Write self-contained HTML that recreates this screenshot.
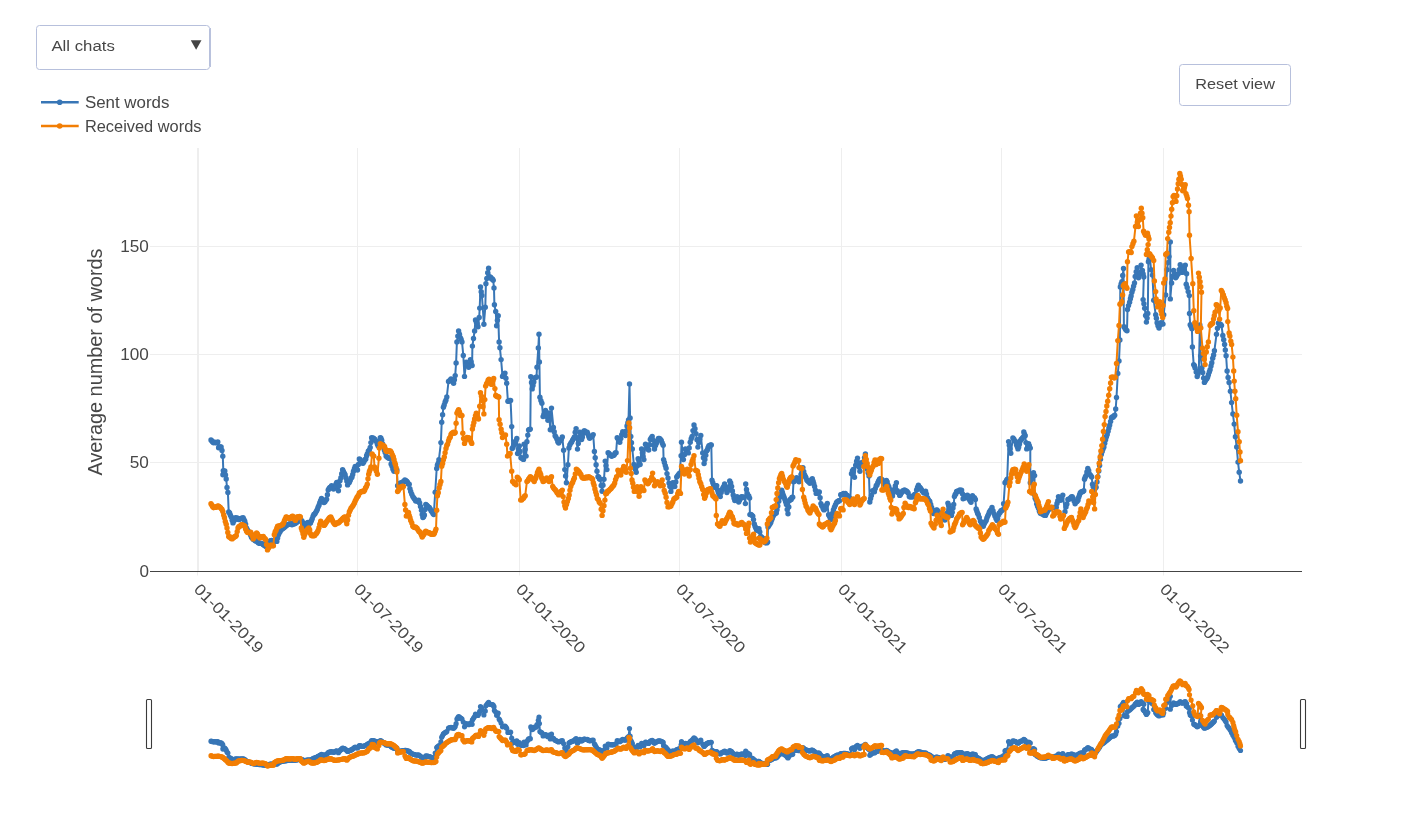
<!DOCTYPE html>
<html><head><meta charset="utf-8"><title>Average number of words</title>
<style>
html,body{margin:0;padding:0;background:#fff;}
svg text{filter:grayscale(1);}
body{width:1418px;height:830px;overflow:hidden;position:relative;font-family:"Liberation Sans",sans-serif;}
</style></head><body>
<svg width="1418" height="830" viewBox="0 0 1418 830" style="position:absolute;left:0;top:0;font-family:'Liberation Sans',sans-serif">
<defs>
<marker id="mb" markerUnits="userSpaceOnUse" markerWidth="8" markerHeight="8" refX="4" refY="4"><circle cx="4" cy="4" r="2.7" fill="#3876b6"/></marker>
<marker id="mo" markerUnits="userSpaceOnUse" markerWidth="8" markerHeight="8" refX="4" refY="4"><circle cx="4" cy="4" r="2.7" fill="#f27e04"/></marker>
<marker id="nb" markerUnits="userSpaceOnUse" markerWidth="8" markerHeight="8" refX="4" refY="4"><circle cx="4" cy="4" r="2.6" fill="#3876b6"/></marker>
<marker id="no" markerUnits="userSpaceOnUse" markerWidth="8" markerHeight="8" refX="4" refY="4"><circle cx="4" cy="4" r="2.6" fill="#f27e04"/></marker>
</defs>
<rect width="1418" height="830" fill="#fff"/>
<line x1="197.5" y1="148" x2="197.5" y2="575.5" stroke="#eeeeee" stroke-width="1"/>
<line x1="357.5" y1="148" x2="357.5" y2="575.5" stroke="#eeeeee" stroke-width="1"/>
<line x1="519.5" y1="148" x2="519.5" y2="575.5" stroke="#eeeeee" stroke-width="1"/>
<line x1="679.5" y1="148" x2="679.5" y2="575.5" stroke="#eeeeee" stroke-width="1"/>
<line x1="841.5" y1="148" x2="841.5" y2="575.5" stroke="#eeeeee" stroke-width="1"/>
<line x1="1001.5" y1="148" x2="1001.5" y2="575.5" stroke="#eeeeee" stroke-width="1"/>
<line x1="1163.5" y1="148" x2="1163.5" y2="575.5" stroke="#eeeeee" stroke-width="1"/>
<line x1="198.5" y1="148" x2="198.5" y2="571" stroke="#eeeeee" stroke-width="1"/>
<line x1="150" y1="246.5" x2="1302" y2="246.5" stroke="#eeeeee" stroke-width="1"/>
<line x1="150" y1="354.5" x2="1302" y2="354.5" stroke="#eeeeee" stroke-width="1"/>
<line x1="150" y1="462.5" x2="1302" y2="462.5" stroke="#eeeeee" stroke-width="1"/>
<line x1="150" y1="571.5" x2="1302" y2="571.5" stroke="#444" stroke-width="1"/>
<text x="148.9" y="251.6" text-anchor="end" font-size="15.8" fill="#474747" textLength="28.6" lengthAdjust="spacingAndGlyphs">150</text>
<text x="148.9" y="359.6" text-anchor="end" font-size="15.8" fill="#474747" textLength="28.6" lengthAdjust="spacingAndGlyphs">100</text>
<text x="148.9" y="467.6" text-anchor="end" font-size="15.8" fill="#474747" textLength="19.1" lengthAdjust="spacingAndGlyphs">50</text>
<text x="148.9" y="576.6" text-anchor="end" font-size="15.8" fill="#474747" textLength="9.5" lengthAdjust="spacingAndGlyphs">0</text>
<text transform="translate(102.3,362) rotate(-90)" text-anchor="middle" font-size="19.5" fill="#474747" textLength="227" lengthAdjust="spacingAndGlyphs">Average number of words</text>
<text transform="translate(192.9,590.2) rotate(45)" font-size="15.8" fill="#474747" textLength="90.5" lengthAdjust="spacingAndGlyphs">01-01-2019</text>
<text transform="translate(352.9,590.2) rotate(45)" font-size="15.8" fill="#474747" textLength="90.5" lengthAdjust="spacingAndGlyphs">01-07-2019</text>
<text transform="translate(514.9,590.2) rotate(45)" font-size="15.8" fill="#474747" textLength="90.5" lengthAdjust="spacingAndGlyphs">01-01-2020</text>
<text transform="translate(674.9,590.2) rotate(45)" font-size="15.8" fill="#474747" textLength="90.5" lengthAdjust="spacingAndGlyphs">01-07-2020</text>
<text transform="translate(836.9,590.2) rotate(45)" font-size="15.8" fill="#474747" textLength="90.5" lengthAdjust="spacingAndGlyphs">01-01-2021</text>
<text transform="translate(996.9,590.2) rotate(45)" font-size="15.8" fill="#474747" textLength="90.5" lengthAdjust="spacingAndGlyphs">01-07-2021</text>
<text transform="translate(1158.9,590.2) rotate(45)" font-size="15.8" fill="#474747" textLength="90.5" lengthAdjust="spacingAndGlyphs">01-01-2022</text>
<polyline fill="none" stroke="#3876b6" stroke-width="2" stroke-linejoin="round" marker-start="url(#mb)" marker-mid="url(#mb)" marker-end="url(#mb)" points="211.0,439.9 211.9,440.9 212.7,442.1 213.6,442.8 214.4,442.3 215.3,442.5 216.1,442.8 217.0,442.6 217.8,441.9 218.6,447.8 219.4,447.0 220.3,446.9 221.1,447.0 222.0,450.4 222.8,456.3 223.3,470.6 222.9,474.8 223.9,472.3 224.8,471.0 225.5,474.9 226.2,479.0 227.0,487.5 227.9,492.5 228.7,511.9 229.6,512.9 230.4,515.2 231.3,517.0 232.2,520.2 233.0,522.9 233.8,520.9 234.7,519.7 235.5,517.8 236.3,518.4 237.2,518.0 238.1,519.2 238.9,519.5 239.7,518.8 240.6,518.7 241.4,518.2 242.3,518.4 243.1,517.8 243.9,519.4 244.8,521.2 245.6,524.1 246.4,528.0 247.2,529.5 248.1,531.2 248.9,532.0 249.8,533.3 250.6,535.0 251.5,537.2 252.3,538.0 253.2,539.3 254.0,539.5 254.9,540.5 255.7,541.0 256.6,541.0 257.4,541.3 258.2,542.7 259.1,543.1 260.0,543.4 260.8,543.4 261.6,543.4 262.5,544.0 263.3,544.5 264.1,545.2 265.0,545.6 265.8,546.5 266.6,545.2 267.5,544.5 268.4,544.1 269.2,542.7 270.0,541.3 270.9,540.6 271.7,540.4 272.6,540.8 273.4,540.5 274.3,540.6 275.1,541.2 276.0,540.7 276.8,541.4 277.6,538.0 278.5,534.7 279.3,532.8 280.2,531.6 281.0,529.6 281.9,529.3 282.7,528.6 283.6,528.0 284.4,526.9 285.2,526.7 286.1,525.6 286.9,525.3 287.8,524.6 288.6,524.2 289.5,524.3 290.3,523.6 291.1,523.8 292.0,524.7 292.8,523.5 293.7,524.1 294.5,523.7 295.3,523.3 296.2,522.8 297.0,521.9 297.9,521.4 298.7,520.1 299.6,519.5 300.4,519.5 301.2,520.2 302.1,521.3 302.9,522.9 303.8,524.0 304.6,526.3 305.5,524.6 306.3,524.1 307.2,522.9 308.0,522.5 308.9,523.5 309.7,523.2 310.5,522.9 311.4,520.7 312.2,518.7 313.1,516.1 313.9,514.4 314.8,514.0 315.6,512.6 316.5,511.1 317.3,509.4 318.1,507.1 319.0,505.3 319.8,502.6 320.6,500.8 321.5,498.4 322.3,500.0 323.2,501.8 324.0,502.6 324.9,501.7 325.7,500.2 326.6,499.3 327.4,494.7 328.2,490.0 329.1,488.5 329.9,487.5 330.8,487.2 331.6,485.8 332.6,487.8 333.5,489.0 334.3,488.0 335.1,486.2 335.9,484.1 336.7,482.4 337.5,486.0 338.4,490.8 339.2,485.7 340.0,480.7 340.9,477.7 341.7,473.8 342.6,469.8 343.4,471.4 344.3,473.1 345.1,474.8 345.9,477.8 346.8,481.1 347.6,484.9 348.5,482.8 349.3,482.4 350.2,480.5 351.0,478.3 351.9,477.3 352.7,474.5 353.5,471.2 354.4,468.7 355.2,466.4 356.0,467.9 356.7,469.0 357.5,470.0 358.4,464.5 359.3,459.0 360.2,459.8 361.1,461.4 362.1,462.9 363.0,463.3 363.9,461.8 364.9,459.8 365.8,459.0 366.6,455.8 367.3,453.9 368.3,451.1 369.2,450.2 370.2,447.4 370.9,442.6 371.6,437.7 372.3,438.5 373.1,437.9 373.8,438.7 374.7,439.3 375.6,440.8 376.5,441.5 377.4,444.3 378.2,446.0 379.2,441.6 380.3,437.7 381.0,438.3 381.7,440.2 382.6,443.9 383.5,446.3 384.3,450.1 385.2,452.4 386.1,456.1 387.1,457.0 388.1,457.8 389.0,458.2 390.0,458.5 391.1,464.0 392.1,466.2 393.0,469.2 394.0,471.3 395.0,470.4 395.9,470.2 396.9,470.0 397.6,485.7 398.5,484.9 399.3,484.9 400.1,483.2 401.0,483.0 402.0,482.8 402.9,481.9 403.9,481.3 404.9,479.9 405.8,480.6 406.6,481.2 407.5,482.2 408.3,483.9 409.2,484.3 409.9,488.6 410.7,491.5 411.8,494.3 412.8,496.6 413.8,498.0 414.7,499.2 415.7,500.9 416.7,501.1 417.6,501.0 418.6,500.2 419.6,503.0 420.5,506.5 421.5,510.3 422.2,514.4 422.9,517.5 423.6,516.7 424.4,515.0 425.1,509.5 425.8,504.5 426.7,505.1 427.6,506.2 428.4,507.2 429.3,507.5 430.2,508.9 431.1,510.8 432.0,511.8 432.9,513.6 433.8,514.6 435.2,492.2 436.7,468.4 437.4,465.1 438.2,463.3 438.9,459.7 440.9,442.6 441.7,422.3 442.6,414.8 443.4,407.2 444.2,405.0 445.1,401.9 445.9,400.2 446.8,397.0 448.5,381.5 449.3,380.9 450.2,380.3 451.0,379.0 451.9,379.8 452.7,381.2 453.6,383.2 454.4,379.7 455.2,375.6 456.1,362.9 456.9,341.9 457.8,336.1 458.6,330.9 459.5,334.3 460.3,337.6 461.1,339.3 462.0,341.9 463.3,355.4 464.5,376.4 466.2,362.1 467.0,364.5 467.9,365.5 468.7,367.2 469.5,363.9 470.4,359.6 471.2,362.0 472.1,365.5 472.4,346.1 473.5,338.5 474.6,330.9 475.5,319.9 476.3,322.1 477.2,323.8 478.0,326.7 479.2,317.4 479.7,308.1 480.5,287.0 481.2,291.8 481.9,295.5 483.9,324.2 485.3,307.3 485.9,283.7 486.8,278.5 487.7,272.8 488.6,268.2 489.8,276.9 490.6,277.2 491.5,278.7 492.4,278.9 493.2,280.3 494.0,287.9 494.4,304.8 495.7,311.5 496.6,325.8 497.4,320.3 498.2,315.7 499.1,341.9 499.9,347.8 501.1,359.6 502.5,376.4 503.3,375.2 504.2,374.2 505.0,373.1 505.9,378.3 506.7,383.2 507.9,401.3 508.8,401.2 509.7,400.5 510.6,400.4 511.7,426.6 512.2,448.5 513.0,447.2 513.7,445.0 514.5,444.0 515.3,441.8 516.0,440.7 516.8,438.4 517.6,453.5 518.5,449.3 519.3,446.0 520.1,451.5 521.0,457.8 521.8,458.0 522.7,458.8 523.5,459.4 524.1,444.3 525.1,449.5 526.1,456.1 526.9,441.7 527.8,435.1 528.6,429.9 529.5,429.4 530.3,429.1 530.8,376.8 531.5,382.4 532.2,388.9 533.0,385.5 533.8,382.0 534.6,378.0 535.5,377.6 536.5,377.0 537.0,367.2 538.3,347.9 539.0,334.2 539.4,362.0 539.9,397.3 540.9,400.6 541.9,403.3 543.1,416.6 543.9,414.4 544.7,411.9 545.5,410.5 546.3,413.6 547.1,416.8 547.9,420.2 549.1,413.0 550.3,429.8 551.5,408.1 553.4,427.4 554.2,431.7 555.1,435.8 556.0,437.1 556.9,439.1 557.8,441.7 558.7,443.1 559.6,441.2 560.5,439.9 561.4,439.1 562.3,437.0 563.6,450.3 564.8,469.6 565.6,475.9 566.4,482.8 567.9,464.8 568.9,447.9 569.8,445.0 570.8,443.1 571.7,441.9 572.6,440.1 573.5,438.7 574.4,437.0 575.2,432.2 576.1,428.6 577.5,449.1 578.3,443.4 579.1,437.1 579.9,432.2 580.8,435.5 581.6,439.5 582.4,437.0 583.2,433.2 584.0,431.0 584.8,431.0 585.6,432.3 586.4,432.6 587.2,432.2 588.0,434.2 588.8,436.6 589.6,438.3 590.5,437.6 591.4,436.4 592.3,436.0 593.2,434.6 594.4,451.5 595.2,457.7 596.1,464.8 597.0,471.3 598.0,476.8 598.7,477.0 599.5,478.9 600.2,479.2 601.2,485.5 602.1,491.3 603.0,485.2 604.0,479.2 605.2,461.1 606.0,465.6 606.9,469.6 608.1,452.7 609.0,453.5 609.9,454.9 610.8,454.9 611.7,456.3 612.6,455.6 613.5,455.4 614.3,454.7 615.2,453.0 616.1,452.7 617.2,437.8 618.1,439.0 618.9,441.4 619.8,442.3 620.8,438.6 621.7,434.6 622.7,431.7 623.7,433.3 624.6,434.1 625.6,435.5 626.3,431.0 627.0,425.9 627.8,422.9 628.5,420.0 629.5,383.9 630.1,418.0 630.8,436.5 631.5,442.8 632.3,449.0 633.9,464.5 634.7,467.0 635.4,469.3 636.2,472.2 637.2,466.0 638.1,458.7 639.1,461.8 640.1,464.5 641.6,449.0 642.4,452.9 643.1,456.6 643.9,459.6 645.5,444.2 646.3,445.3 647.1,447.7 647.9,449.1 648.7,450.0 649.5,444.7 650.3,439.4 651.2,438.0 652.2,436.5 653.0,440.1 653.7,445.2 654.5,449.0 655.5,445.6 656.4,443.2 657.4,440.8 658.4,438.4 659.4,438.5 660.3,439.1 661.3,440.4 662.2,443.0 663.2,445.2 663.6,459.6 664.4,462.5 665.3,465.6 666.1,468.3 667.0,473.6 668.0,478.0 669.0,483.1 669.9,486.4 670.9,491.4 671.8,487.3 672.8,482.8 673.8,484.8 674.8,486.6 675.8,482.0 676.7,477.0 677.7,475.8 678.6,474.5 679.6,473.1 681.1,455.8 681.5,442.3 683.4,459.6 684.4,454.8 685.4,449.0 686.4,450.2 687.3,451.6 688.3,452.9 689.2,447.9 690.2,442.3 691.2,438.8 692.1,436.5 693.0,430.6 694.0,424.9 695.0,428.7 696.0,433.6 697.0,439.8 697.9,447.1 698.9,442.5 699.8,439.0 700.8,435.5 702.7,452.9 703.4,457.8 704.1,463.5 704.9,459.4 705.8,455.3 706.6,451.0 707.4,449.7 708.1,447.4 708.9,445.7 709.7,446.0 710.5,445.0 711.3,444.9 712.0,480.1 712.8,482.8 713.6,484.9 714.4,487.2 715.2,486.8 715.9,485.8 716.7,485.6 717.5,489.7 718.3,492.6 719.3,495.0 720.3,496.6 721.2,492.6 722.2,489.5 723.0,487.7 723.8,486.5 724.6,484.0 725.4,486.2 726.1,489.5 726.9,492.6 727.7,490.6 728.5,488.0 729.7,480.9 730.7,483.0 731.6,486.4 732.4,491.0 733.2,495.0 734.0,497.9 734.8,500.5 735.6,499.5 736.3,498.0 737.1,496.6 737.9,499.9 738.7,502.0 739.5,500.2 740.2,499.0 741.0,497.3 741.8,496.7 742.6,497.4 743.4,497.2 744.2,497.3 745.4,503.6 745.7,484.0 746.5,489.4 747.3,493.4 748.1,495.6 748.8,496.0 749.6,498.1 749.9,514.6 750.9,514.5 751.8,515.1 752.8,516.1 753.5,519.6 754.3,524.0 755.1,526.4 755.9,528.2 756.7,530.2 757.5,529.7 758.2,529.2 759.0,528.7 759.8,531.9 760.6,536.5 761.4,536.9 762.1,538.3 762.9,538.1 763.7,540.1 764.5,541.3 765.3,542.8 766.1,542.1 766.8,542.9 767.6,542.0 768.0,527.1 768.9,525.4 769.9,524.1 770.8,522.4 771.6,520.0 772.3,518.3 773.1,516.3 773.9,514.6 774.7,513.9 775.5,512.9 776.3,513.0 777.0,509.7 777.8,506.0 778.8,501.2 779.9,497.3 780.8,493.9 781.7,490.3 782.5,492.8 783.3,495.2 784.1,497.3 784.9,499.4 785.6,501.7 786.4,504.4 787.2,509.5 788.0,513.8 788.8,507.0 789.6,500.5 790.4,499.2 791.2,499.5 791.9,497.4 792.7,497.3 793.5,481.7 794.3,481.3 795.0,479.5 795.8,478.6 796.6,477.8 797.4,479.8 798.2,480.3 799.0,481.7 800.0,478.5 801.0,474.5 801.9,471.7 802.9,467.6 803.7,471.4 804.5,474.6 805.3,476.4 806.0,477.7 806.8,480.1 807.6,480.7 808.3,481.6 809.1,482.1 809.9,483.2 810.7,481.7 811.5,479.7 812.3,478.6 813.1,481.2 813.8,483.8 814.6,486.4 815.4,490.1 816.2,493.4 817.0,493.4 817.8,493.0 818.5,492.2 819.3,491.9 820.1,497.7 820.9,503.6 821.7,505.7 822.5,506.6 823.2,508.7 824.0,509.9 824.8,509.0 825.6,507.2 826.5,505.1 827.3,503.4 828.6,514.7 829.4,516.0 830.2,518.1 831.0,519.5 831.8,516.6 832.6,513.1 833.4,509.9 834.4,507.3 835.4,505.0 836.4,502.7 837.2,501.6 838.0,501.5 838.7,500.8 839.5,500.8 840.7,494.8 841.6,494.7 842.5,494.8 843.4,493.4 844.3,493.6 845.3,493.5 846.3,495.1 847.3,495.4 848.3,496.4 849.3,497.8 850.3,499.0 851.5,473.7 852.4,471.0 853.3,469.5 854.5,477.3 855.7,465.3 856.6,461.2 857.5,458.1 858.3,462.8 859.1,467.0 859.9,471.3 861.1,462.9 861.9,463.0 862.8,462.7 863.6,461.7 864.5,457.6 865.4,453.9 867.2,468.9 868.1,472.7 869.0,476.1 869.8,502.0 870.6,498.6 871.4,495.4 872.6,490.6 873.5,491.2 874.4,491.8 875.3,488.6 876.2,485.8 877.0,484.9 877.8,482.8 878.6,481.0 879.5,479.3 880.4,478.6 881.3,479.5 882.2,479.8 883.0,482.1 883.8,483.6 884.6,484.6 885.5,482.6 886.4,480.4 887.2,481.9 888.1,485.2 888.9,487.0 889.8,489.4 890.7,490.6 891.6,493.6 892.5,496.0 893.4,492.6 894.3,489.4 895.3,485.9 896.4,482.8 897.3,490.6 898.1,492.5 898.9,493.3 899.7,495.4 900.5,494.6 901.3,493.0 902.1,491.8 902.9,490.6 903.7,491.1 904.5,490.0 905.4,490.6 906.3,490.9 907.2,491.8 908.1,493.0 909.3,496.6 910.2,497.1 911.1,496.1 912.1,497.0 913.0,496.6 913.8,496.2 914.6,494.4 915.4,494.2 916.6,490.0 917.5,487.5 918.4,485.2 919.4,487.0 920.4,488.0 921.4,489.4 922.2,491.1 923.0,491.6 923.8,493.0 924.7,492.3 925.6,491.2 926.5,494.1 927.4,497.8 928.2,499.5 929.0,500.7 929.8,501.4 930.7,504.5 931.6,507.5 932.5,510.3 933.4,513.5 934.3,512.4 935.2,511.8 936.1,510.3 937.0,509.9 937.8,511.3 938.5,512.3 939.3,513.7 940.1,515.3 941.1,516.0 942.0,517.7 943.0,517.7 943.9,518.8 944.9,520.1 945.8,516.3 946.7,513.5 947.9,503.1 948.6,505.3 949.4,508.7 950.1,511.7 950.8,514.0 951.5,515.4 952.2,512.3 953.0,508.1 953.7,504.5 954.4,496.6 955.1,494.8 955.9,493.7 956.6,491.5 957.4,491.3 958.3,491.1 959.1,491.0 959.9,490.0 960.8,490.8 961.6,490.1 962.4,493.8 963.1,498.7 964.0,498.0 964.8,497.9 965.7,496.6 966.5,495.6 967.4,495.1 968.3,497.2 969.2,499.3 970.1,500.7 971.0,502.3 971.8,498.4 972.5,495.8 973.5,497.6 974.4,497.6 975.4,499.5 976.1,508.9 976.8,511.0 977.6,513.3 978.3,514.6 979.3,517.4 980.4,521.1 981.4,522.8 982.3,524.8 983.3,526.2 984.3,523.8 985.2,522.0 986.2,520.4 986.9,517.9 987.7,516.1 988.4,514.6 989.3,512.3 990.2,510.7 991.1,509.6 992.0,507.4 993.0,510.6 993.9,513.6 994.9,516.1 996.0,518.5 997.0,520.4 997.7,518.4 998.5,515.1 999.2,513.2 1000.1,512.4 1001.0,510.7 1001.9,510.5 1002.8,509.6 1003.6,503.8 1005.0,482.8 1005.7,482.1 1006.5,480.4 1007.2,479.2 1008.6,441.6 1009.3,445.2 1010.1,449.0 1010.8,453.2 1012.9,438.0 1013.9,439.1 1014.8,441.0 1015.8,441.6 1016.5,444.7 1017.3,446.8 1018.0,448.9 1018.7,446.9 1019.5,443.9 1020.2,440.9 1021.2,439.4 1022.1,438.4 1023.1,437.3 1023.8,431.9 1024.5,434.2 1025.2,435.8 1026.0,442.6 1026.7,448.9 1027.7,446.6 1028.6,443.8 1029.4,445.9 1030.3,448.1 1030.3,482.8 1031.1,479.8 1031.9,478.4 1032.7,474.8 1033.5,472.7 1034.6,475.6 1034.3,494.4 1035.1,498.0 1035.9,499.7 1036.7,503.8 1037.5,506.0 1038.5,508.2 1039.4,511.2 1040.4,513.2 1041.2,512.9 1042.1,513.9 1043.0,513.9 1043.8,514.9 1044.7,515.3 1045.5,515.4 1046.5,513.2 1047.4,511.4 1048.4,508.9 1049.3,509.2 1050.2,507.6 1051.1,507.9 1052.0,507.4 1052.9,507.6 1053.7,507.6 1054.6,507.1 1055.4,507.9 1056.3,507.4 1057.0,503.4 1057.8,500.7 1058.5,496.6 1059.2,497.8 1060.0,498.5 1060.7,500.2 1061.8,498.1 1062.8,495.1 1065.0,511.7 1066.0,507.0 1066.9,504.0 1067.9,499.5 1068.8,499.1 1069.6,498.9 1070.5,498.2 1071.3,497.0 1072.2,496.6 1073.2,498.5 1074.1,501.1 1075.1,503.8 1076.1,501.9 1077.0,501.6 1078.0,500.2 1078.7,497.2 1079.5,494.9 1080.2,492.9 1081.1,492.0 1082.0,491.7 1082.9,491.6 1083.8,490.8 1084.5,479.2 1085.2,477.3 1086.0,475.6 1086.9,472.0 1087.8,468.4 1088.7,470.7 1089.6,474.2 1090.7,475.4 1091.7,477.0 1092.5,484.3 1093.2,486.8 1093.9,490.1 1094.6,489.5 1095.4,487.5 1096.1,487.2 1097.0,481.9 1097.9,476.6 1098.8,470.9 1099.6,465.4 1100.5,459.3 1101.3,454.5 1102.2,451.6 1103.0,449.1 1103.9,446.9 1104.7,443.2 1105.6,439.8 1106.4,436.8 1107.2,434.5 1108.1,431.3 1108.9,427.9 1109.7,425.1 1110.6,421.5 1111.4,417.8 1112.2,417.0 1113.1,417.2 1113.9,415.9 1114.7,415.3 1115.7,409.0 1116.5,397.5 1117.8,373.5 1119.0,360.9 1119.9,340.0 1120.3,287.0 1121.1,283.9 1121.9,281.7 1122.7,275.4 1123.5,268.4 1123.9,326.8 1124.7,327.4 1125.5,329.2 1126.2,330.1 1127.0,330.7 1127.5,309.5 1128.5,305.6 1129.6,302.2 1130.4,298.8 1131.1,295.9 1131.9,292.3 1132.8,289.4 1133.6,286.1 1134.5,283.0 1135.2,276.4 1136.2,271.7 1137.2,267.8 1138.5,277.7 1139.3,274.8 1140.2,272.4 1141.1,265.1 1142.4,270.4 1143.1,274.0 1143.8,277.0 1143.1,299.6 1143.9,303.8 1144.7,308.2 1145.6,315.5 1146.4,322.1 1147.1,318.1 1147.8,313.5 1148.4,261.8 1149.1,258.9 1149.8,256.5 1151.1,269.8 1152.4,275.1 1153.7,300.2 1155.7,314.8 1156.4,318.2 1157.1,322.8 1158.0,325.7 1159.0,328.1 1160.0,325.2 1161.0,322.8 1162.0,323.5 1163.0,324.1 1163.7,314.8 1165.7,294.9 1167.0,269.8 1168.0,262.6 1169.0,256.5 1170.3,241.9 1170.3,298.9 1171.6,283.0 1172.6,276.2 1173.6,270.4 1174.6,273.9 1175.6,277.7 1176.5,276.6 1177.4,274.5 1178.3,273.7 1179.2,269.6 1180.2,264.7 1181.2,269.0 1182.2,272.4 1183.0,270.8 1183.8,269.1 1184.5,266.6 1185.3,265.1 1186.6,273.7 1186.2,284.3 1187.2,287.4 1188.2,291.6 1189.3,295.6 1189.5,313.5 1190.2,324.8 1191.1,326.5 1191.9,328.7 1192.4,346.9 1193.7,364.6 1194.4,365.8 1195.1,368.0 1196.2,372.1 1197.2,376.5 1198.0,374.1 1198.8,371.0 1199.9,325.0 1200.6,356.0 1201.9,368.0 1202.7,372.5 1203.6,378.1 1204.4,382.4 1205.2,381.1 1206.0,379.4 1206.8,378.8 1207.6,377.3 1208.4,374.7 1209.3,372.0 1210.1,369.7 1211.0,365.9 1211.8,362.8 1212.7,358.3 1213.6,354.9 1214.4,350.7 1216.5,334.3 1217.5,328.3 1218.5,322.9 1219.5,324.3 1220.5,324.1 1221.5,325.4 1222.8,335.5 1223.7,339.8 1224.6,344.4 1225.3,349.9 1226.1,355.8 1227.1,371.0 1228.1,377.4 1229.1,382.4 1230.4,391.2 1231.6,402.6 1232.9,414.0 1234.2,424.1 1235.4,436.8 1236.7,446.9 1238.0,462.1 1239.2,472.2 1240.5,481.0"/>
<polyline fill="none" stroke="#f27e04" stroke-width="2" stroke-linejoin="round" marker-start="url(#mo)" marker-mid="url(#mo)" marker-end="url(#mo)" points="211.0,503.8 211.9,505.2 212.7,506.7 213.6,507.7 214.4,507.1 215.3,507.0 216.1,507.2 217.0,506.9 217.8,506.0 218.6,506.2 219.5,507.0 220.3,507.4 221.2,508.6 222.0,509.4 222.8,511.5 223.7,514.9 224.5,517.8 225.3,521.4 226.2,524.2 227.0,527.9 227.8,532.4 228.7,536.4 229.5,537.2 230.4,537.0 231.2,538.4 232.1,538.9 232.9,537.9 233.8,537.4 234.6,536.6 235.5,536.5 236.3,535.5 237.2,531.6 238.0,527.9 238.8,526.6 239.7,526.3 240.6,525.8 241.4,524.6 242.2,524.8 243.1,525.1 244.0,525.7 244.8,526.3 245.6,528.9 246.5,530.9 247.3,532.2 248.2,532.4 249.0,532.8 249.8,532.7 250.7,532.2 251.5,534.3 252.4,536.1 253.2,538.9 254.1,537.6 254.9,536.0 255.8,534.3 256.6,533.0 257.4,533.9 258.2,535.4 259.1,536.7 259.9,538.0 260.8,537.3 261.6,536.9 262.4,536.7 263.3,536.4 264.1,538.0 265.0,538.8 265.8,539.8 266.6,544.5 267.5,549.9 268.3,548.2 269.2,547.0 270.0,545.7 270.9,545.3 271.7,545.3 272.5,545.7 273.4,545.7 274.3,534.7 275.1,532.0 276.0,530.5 276.8,528.2 277.6,526.3 278.5,526.3 279.3,526.1 280.1,525.7 281.0,525.4 281.9,524.7 282.7,524.6 283.6,522.9 284.4,520.6 285.2,519.0 286.1,517.0 286.9,517.2 287.8,517.8 288.6,517.7 289.4,518.7 290.2,517.7 291.1,518.1 291.9,516.4 292.8,516.1 293.7,517.8 294.5,519.2 295.4,520.4 296.2,519.0 297.0,517.0 297.9,517.0 298.7,517.1 299.5,516.4 300.4,517.0 301.3,527.9 302.1,530.4 303.0,533.7 303.8,537.2 304.6,534.7 305.5,532.7 306.3,531.3 307.1,529.6 308.0,529.1 308.8,527.9 309.7,530.0 310.5,533.6 311.4,535.5 312.2,535.8 313.0,535.6 313.9,535.8 314.7,535.5 315.6,533.9 316.4,533.6 317.2,532.2 318.1,530.5 319.0,527.7 319.8,524.3 320.7,521.2 321.5,522.7 322.4,523.6 323.2,524.6 324.0,525.4 324.8,524.8 325.7,523.2 326.5,521.7 327.4,520.8 328.2,519.5 329.1,518.2 329.9,517.4 330.8,517.0 331.6,518.8 332.5,520.4 333.3,522.2 334.2,523.6 335.0,524.6 335.8,524.1 336.7,522.9 337.5,522.9 338.3,522.9 339.2,522.2 340.0,521.2 340.9,520.5 341.7,519.7 342.6,518.7 343.4,517.9 344.2,517.1 345.1,517.0 346.0,520.9 346.8,523.7 347.6,520.0 348.5,515.3 349.3,511.9 350.1,510.3 351.0,508.3 351.9,507.1 352.7,506.0 353.6,504.6 354.4,502.9 355.2,500.9 356.1,499.3 356.9,497.4 357.7,496.4 358.5,495.2 359.3,493.0 360.2,492.6 361.1,491.8 361.9,491.5 362.8,491.2 363.7,491.5 364.6,490.3 365.5,488.0 366.4,486.6 367.3,484.3 368.0,478.8 368.7,474.2 369.4,471.4 370.2,469.6 370.9,466.9 372.1,453.9 373.0,455.6 373.8,456.1 374.5,466.9 375.5,469.1 376.4,471.2 377.4,474.2 378.9,458.3 379.3,448.1 380.3,443.8 381.2,444.9 382.0,444.7 382.9,445.9 383.7,445.6 384.6,446.7 385.4,449.1 386.1,451.0 387.0,451.5 387.8,451.3 388.7,450.8 389.5,451.3 390.4,451.0 391.4,452.4 392.3,454.6 393.3,456.8 394.0,459.4 394.8,462.7 395.5,464.8 396.2,467.9 396.9,472.0 397.6,491.5 398.3,490.6 399.1,489.1 399.8,487.2 400.7,487.7 401.6,486.6 402.5,486.2 403.4,486.4 404.9,504.5 405.6,509.9 406.3,516.1 407.0,515.4 407.8,514.4 408.5,512.5 409.2,515.4 410.0,517.7 410.7,520.4 411.8,523.0 412.8,526.2 413.7,527.1 414.6,527.6 415.4,526.9 416.3,527.6 417.2,528.4 418.1,530.1 419.0,531.4 419.9,531.9 420.8,533.4 421.5,534.9 422.2,537.0 423.1,535.5 424.0,534.2 424.9,532.2 425.8,531.3 426.7,532.2 427.6,532.2 428.4,532.9 429.3,532.6 430.2,533.4 431.1,534.3 432.0,534.2 432.9,533.8 433.8,534.2 434.5,533.1 435.3,531.1 436.0,529.1 436.7,510.3 437.4,495.8 438.3,492.7 439.1,488.0 440.0,484.4 440.9,481.4 441.7,466.2 442.6,463.4 443.4,459.7 444.3,456.9 445.1,452.7 446.0,448.5 446.8,445.5 447.6,444.1 448.5,440.9 449.3,438.4 450.2,437.2 451.0,434.4 451.9,433.3 452.7,433.1 453.5,432.3 454.4,433.2 455.2,432.5 456.1,423.2 456.9,413.1 457.8,411.3 458.6,409.7 459.5,412.0 460.3,415.6 461.1,415.0 462.0,415.6 462.8,433.3 463.6,438.4 464.5,443.4 465.3,440.8 466.2,439.0 467.0,437.5 467.9,437.7 468.7,438.0 469.6,438.3 470.3,440.1 471.1,441.9 471.8,443.4 472.4,429.1 473.1,425.6 473.9,422.5 474.6,419.0 475.5,415.6 476.3,413.1 477.0,414.8 477.8,417.5 478.5,419.0 479.7,406.3 480.5,392.8 481.4,396.1 482.2,400.4 483.0,406.8 483.9,413.9 484.8,399.6 485.6,386.1 486.5,384.0 487.3,382.7 488.1,380.3 489.0,379.3 489.8,380.3 490.7,382.6 491.5,384.4 492.2,382.0 493.0,380.7 493.7,378.5 494.9,388.6 495.7,395.4 496.5,396.2 497.2,396.3 498.0,396.9 498.8,397.0 499.1,419.8 500.1,424.3 501.1,429.1 501.8,432.7 502.5,437.5 503.5,436.6 504.5,435.7 505.5,435.0 506.7,444.3 507.5,456.1 508.4,455.4 509.2,453.9 510.1,453.5 511.7,471.3 512.6,481.4 513.5,481.9 514.3,483.5 515.1,483.6 516.0,484.8 517.3,477.2 518.3,478.3 519.3,479.7 520.7,499.9 521.6,499.9 522.6,498.5 523.5,498.2 524.4,496.5 525.2,495.7 526.9,481.6 527.8,480.7 528.6,479.3 529.4,478.2 530.3,476.8 531.3,477.4 532.2,479.1 533.2,479.7 534.2,481.6 535.0,479.2 535.8,477.9 536.6,475.6 537.4,472.8 538.2,471.0 539.0,469.1 539.9,472.4 540.7,474.4 541.5,477.5 542.3,479.2 543.1,481.6 544.0,481.0 544.9,480.0 545.8,478.9 546.7,478.0 547.5,479.7 548.3,479.9 549.1,481.6 549.9,480.5 550.7,477.8 551.5,476.8 552.7,486.4 553.6,488.1 554.5,489.1 555.4,490.0 556.3,491.3 557.1,492.7 557.9,493.6 558.7,494.9 559.6,494.1 560.5,492.0 561.4,491.3 562.3,490.1 563.1,496.6 564.0,502.1 564.8,505.7 565.5,508.1 566.5,504.5 567.4,501.4 568.4,498.5 569.2,495.0 570.0,490.2 570.8,486.4 571.7,483.7 572.6,482.5 573.5,480.0 574.4,478.0 575.3,473.9 576.3,469.1 577.3,470.0 578.2,471.0 579.2,472.0 580.1,473.4 581.0,474.7 581.9,477.1 582.8,478.0 583.7,478.1 584.5,478.1 585.4,478.0 586.3,477.0 587.2,477.7 588.0,477.5 588.9,476.8 589.8,477.4 590.7,478.1 591.6,478.1 592.5,479.2 593.3,482.8 594.1,485.2 594.9,488.9 595.7,492.1 596.5,494.8 597.3,498.5 598.3,499.5 599.2,501.9 600.2,503.3 601.2,509.3 602.1,515.4 603.0,510.8 604.0,505.7 604.9,500.1 605.7,493.7 606.6,493.5 607.5,491.3 608.4,491.2 609.3,490.1 610.2,489.2 611.1,488.4 611.9,487.2 612.8,486.3 613.7,485.2 614.7,482.9 615.6,479.5 616.6,476.8 617.9,470.2 618.9,471.9 619.8,473.7 620.8,475.1 621.8,471.6 622.7,469.2 623.7,466.4 624.5,467.8 625.4,469.8 626.2,472.2 627.5,460.6 628.9,423.0 629.6,427.8 630.4,468.3 631.2,473.4 632.0,479.9 632.8,483.3 633.5,487.2 634.3,491.4 635.3,489.8 636.2,488.3 637.2,486.6 638.2,491.9 639.1,496.3 640.0,491.4 641.0,486.6 642.0,488.4 642.9,489.1 643.9,490.5 644.9,479.9 645.9,481.5 646.8,482.5 647.8,483.7 648.8,482.6 649.7,480.8 650.7,479.9 651.7,477.1 652.6,473.1 653.5,479.8 654.5,485.7 655.5,483.9 656.4,483.2 657.4,481.8 658.4,483.8 659.3,483.8 660.3,485.7 661.2,482.5 662.2,479.9 663.2,485.5 664.2,490.5 665.2,493.2 666.1,497.2 667.0,502.4 668.0,506.9 669.0,506.7 669.9,506.6 670.9,505.9 671.9,503.7 672.8,502.0 673.8,499.2 674.8,498.3 675.7,498.0 676.7,497.2 677.7,493.7 678.6,491.4 679.5,492.5 680.5,493.4 681.5,466.4 682.5,468.9 683.4,472.2 684.4,474.1 685.4,473.1 686.3,470.4 687.3,469.3 688.2,472.0 689.2,476.0 690.2,469.7 691.1,464.5 692.1,461.2 693.0,459.0 694.0,455.8 695.6,470.2 696.5,470.8 697.5,471.2 698.3,474.8 699.0,478.2 699.8,481.8 700.8,483.7 701.7,486.8 702.7,489.5 703.7,494.5 704.6,498.2 705.5,496.0 706.4,493.0 707.3,490.3 708.1,489.5 708.9,490.1 709.7,489.0 710.5,488.7 711.3,491.2 712.0,493.0 712.8,495.8 713.6,496.3 714.4,497.1 715.2,498.0 716.0,498.9 716.3,515.4 717.5,524.0 718.3,524.1 719.1,525.8 719.9,526.3 720.7,524.0 721.4,522.8 722.2,520.8 723.0,521.8 723.8,522.7 724.6,523.2 725.4,521.3 726.1,519.8 726.9,518.5 727.8,516.8 728.8,514.1 729.7,512.2 730.6,513.3 731.5,515.9 732.4,516.9 733.2,519.4 734.0,523.2 734.9,524.1 735.9,523.5 736.8,524.0 737.8,525.1 738.7,524.8 739.5,524.1 740.2,523.9 741.0,522.9 741.8,522.4 742.6,523.8 743.3,524.3 744.1,524.7 744.9,525.5 745.7,528.9 746.5,533.4 747.3,529.8 748.1,526.6 748.9,523.2 749.6,538.1 750.4,542.0 751.2,539.7 752.0,538.1 752.8,535.7 753.6,534.2 754.4,538.5 755.1,542.8 756.0,543.3 757.0,544.0 757.9,544.5 758.9,545.0 759.8,545.1 759.0,538.1 759.9,538.8 760.9,539.6 761.8,541.0 762.8,541.0 763.7,542.0 764.5,541.4 765.3,540.7 766.1,539.7 766.9,538.1 767.3,524.0 768.4,520.1 769.2,519.4 770.0,518.2 770.8,517.7 771.5,512.8 772.3,507.5 773.1,507.4 773.9,506.8 774.7,506.2 775.5,506.0 776.2,499.6 777.0,493.4 777.8,487.9 778.6,482.7 779.4,478.6 780.2,476.6 780.9,474.7 781.7,473.5 782.5,476.2 783.3,479.1 784.1,480.9 784.9,482.0 785.7,483.4 786.4,486.0 787.2,487.2 788.0,484.4 788.8,481.9 789.6,479.3 790.4,477.9 791.1,477.3 791.9,477.0 793.0,466.0 793.9,464.2 794.9,462.0 795.8,459.8 796.8,460.5 797.7,460.9 798.7,460.5 799.0,467.6 799.9,467.7 800.9,468.3 801.8,468.4 802.4,489.5 803.7,497.3 804.5,500.1 805.2,503.1 806.0,506.0 807.0,507.6 808.0,510.2 808.9,511.4 809.9,513.0 810.7,510.7 811.5,509.8 812.3,508.4 813.1,506.0 813.9,507.5 814.7,508.0 815.4,508.2 816.2,509.9 817.1,511.9 818.1,513.6 819.0,514.6 819.3,524.0 820.1,525.1 820.9,525.5 821.7,526.2 822.5,527.1 823.3,526.5 824.2,524.7 825.0,524.3 826.0,524.1 827.0,523.1 828.0,522.5 829.0,524.3 830.0,527.8 831.0,529.8 831.9,528.0 832.8,525.9 833.7,524.3 834.6,523.1 835.4,520.4 836.2,516.2 837.0,513.5 837.8,514.7 838.7,515.5 839.5,515.9 840.7,508.7 841.5,508.5 842.3,509.4 843.1,509.9 844.3,499.6 845.1,500.2 845.9,500.0 846.7,500.2 847.7,502.1 848.7,502.9 849.7,504.5 850.6,503.3 851.5,501.3 852.4,500.9 853.3,499.0 854.5,504.5 855.5,502.3 856.5,499.3 857.5,496.6 858.3,499.2 859.1,502.1 859.9,505.1 860.7,503.6 861.5,501.3 862.3,500.2 863.2,499.3 864.2,498.4 863.8,466.5 864.6,460.8 865.4,455.7 866.3,459.4 867.2,463.5 868.1,467.1 868.9,471.6 869.8,474.9 870.6,472.0 871.4,470.1 872.3,467.6 873.2,465.9 874.1,462.4 875.0,459.9 876.2,464.6 877.4,460.2 878.6,463.4 879.8,459.4 880.7,458.4 881.6,458.7 881.9,490.0 882.8,489.7 883.7,490.1 884.6,489.4 885.7,488.5 886.7,486.4 887.5,489.7 888.3,493.0 889.1,495.3 889.9,498.3 890.7,500.2 891.3,507.5 891.9,514.1 892.7,512.3 893.5,510.6 894.3,508.7 895.1,509.3 895.9,508.9 896.7,509.9 897.5,513.4 898.3,515.3 899.1,518.9 899.9,517.9 900.8,517.3 901.6,515.7 902.5,514.4 903.3,513.5 903.9,507.5 905.1,503.3 906.1,505.0 907.1,506.7 908.1,507.5 908.9,507.5 909.7,506.5 910.5,506.9 911.4,507.9 912.4,507.1 913.3,508.5 914.2,508.7 915.4,502.7 916.2,500.8 917.0,497.4 917.8,495.4 918.6,496.6 919.4,498.1 920.2,499.0 921.1,498.6 922.0,498.8 922.9,498.7 923.8,498.9 924.7,499.0 925.6,499.6 926.6,501.1 927.6,503.6 928.6,505.1 929.5,508.4 930.4,511.1 931.0,523.1 932.0,525.1 933.0,526.6 934.0,528.0 935.2,524.3 936.1,520.2 937.0,515.3 938.0,516.9 938.9,519.5 939.7,521.6 940.5,522.8 941.3,525.5 941.9,513.5 943.1,509.3 944.3,515.9 945.2,516.3 946.1,517.2 947.0,517.1 947.9,517.5 950.1,532.0 951.1,531.2 952.0,530.7 953.0,530.5 953.7,527.5 954.4,524.8 955.1,523.4 955.9,521.6 956.6,519.0 957.6,517.6 958.5,516.3 959.5,513.9 960.4,513.8 961.2,512.7 962.1,512.5 962.6,524.8 963.4,523.2 964.2,522.2 965.1,520.7 965.9,519.2 966.7,517.5 967.6,519.3 968.5,520.7 969.4,523.6 970.3,524.8 971.3,522.9 972.2,522.5 973.2,520.4 974.2,521.8 975.1,524.9 976.1,526.2 977.0,526.8 977.9,528.1 978.8,527.7 979.7,529.1 980.4,533.0 981.1,537.0 981.8,537.4 982.6,538.7 983.3,539.2 984.2,538.4 985.1,537.0 986.0,536.3 986.9,534.9 987.9,533.6 988.8,530.5 989.8,529.1 990.7,527.8 991.5,526.5 992.4,524.8 993.2,526.1 994.0,526.6 994.8,528.5 995.6,529.1 996.6,530.4 997.5,533.0 998.5,534.2 999.2,524.8 1000.1,524.0 1001.0,522.9 1001.9,523.1 1002.8,521.9 1003.5,521.3 1004.3,522.3 1005.0,521.9 1005.7,508.1 1006.4,506.3 1007.2,504.8 1007.9,502.3 1009.3,485.7 1010.0,482.3 1010.8,477.9 1011.5,474.2 1012.2,471.5 1012.9,469.8 1013.9,469.5 1014.8,469.1 1015.8,469.8 1016.5,473.9 1017.3,477.0 1018.0,481.4 1018.7,478.6 1019.5,476.2 1020.2,474.2 1021.2,471.9 1022.3,469.8 1023.2,467.2 1024.2,464.0 1025.0,466.4 1025.9,468.9 1026.7,471.3 1027.4,468.6 1028.2,466.7 1028.9,464.8 1029.6,491.5 1030.7,491.8 1031.7,493.0 1032.6,490.4 1033.4,486.5 1034.3,484.3 1035.4,495.8 1036.3,498.1 1037.3,500.4 1038.2,502.3 1038.9,505.4 1039.7,507.9 1040.4,511.7 1041.3,511.1 1042.2,510.8 1043.0,510.5 1043.9,510.2 1044.8,510.3 1045.7,508.8 1046.6,506.4 1047.5,504.3 1048.4,501.6 1049.1,507.4 1050.1,507.7 1051.0,507.2 1052.0,507.4 1052.7,516.1 1053.6,515.6 1054.5,513.9 1055.4,512.4 1056.3,511.7 1057.3,512.3 1058.2,511.9 1059.2,512.5 1060.0,516.2 1060.7,519.0 1061.6,518.1 1062.6,516.3 1063.5,515.4 1064.3,528.4 1065.2,526.3 1066.1,524.7 1067.0,522.6 1067.9,520.4 1068.8,519.7 1069.7,518.5 1070.6,518.0 1071.5,517.5 1072.4,520.3 1073.3,522.5 1074.2,525.4 1075.1,527.6 1076.0,526.1 1076.9,523.8 1077.8,521.6 1078.7,520.4 1079.4,516.8 1080.2,512.5 1080.9,508.9 1081.6,511.9 1082.4,514.1 1083.1,517.5 1084.0,515.0 1084.8,513.4 1085.7,511.7 1086.5,508.9 1087.4,507.4 1088.1,504.5 1088.8,500.9 1089.7,501.6 1090.7,501.5 1091.6,501.8 1092.5,501.6 1091.7,491.5 1092.7,496.9 1093.6,502.5 1094.6,508.9 1095.4,494.4 1097.5,477.2 1098.4,470.2 1099.2,463.2 1100.1,457.0 1100.9,451.0 1101.8,445.6 1102.6,439.3 1103.4,431.4 1104.3,424.6 1105.1,416.5 1106.0,411.4 1106.8,405.9 1107.7,401.3 1108.7,395.2 1109.7,388.7 1110.6,382.9 1111.4,377.3 1112.4,377.1 1113.3,377.3 1114.2,378.0 1115.2,377.3 1116.5,363.4 1117.8,340.6 1119.0,325.4 1119.9,304.2 1120.9,303.3 1121.9,301.6 1122.6,294.9 1123.3,285.7 1124.2,284.4 1125.2,283.7 1126.1,286.6 1127.0,288.3 1127.5,261.8 1128.6,251.9 1129.5,251.7 1130.3,252.2 1131.2,252.5 1131.9,246.6 1132.9,243.8 1133.9,241.3 1135.5,226.5 1136.4,215.9 1137.4,221.9 1138.4,226.5 1139.7,219.8 1140.5,213.3 1141.3,208.2 1142.0,213.2 1142.8,217.8 1143.6,231.3 1144.5,233.3 1145.5,235.2 1146.5,233.8 1147.5,233.3 1148.2,236.3 1149.0,239.0 1148.1,244.6 1147.3,249.7 1146.4,254.5 1147.2,253.8 1148.1,254.6 1149.0,253.8 1149.8,253.9 1150.7,255.7 1151.5,256.6 1152.4,257.8 1153.7,260.5 1154.4,281.0 1155.7,291.6 1156.1,298.9 1156.9,302.3 1157.7,306.9 1158.7,304.6 1159.7,301.6 1161.0,310.8 1161.8,314.2 1162.7,317.5 1163.0,305.5 1163.7,283.0 1165.0,279.0 1165.7,254.5 1167.0,253.2 1167.7,238.6 1168.8,232.3 1169.5,227.4 1170.2,222.7 1171.0,216.1 1171.7,209.2 1172.4,202.8 1173.1,196.6 1174.0,195.5 1175.0,195.7 1176.0,201.4 1176.8,195.7 1177.5,188.9 1178.2,183.8 1178.9,179.3 1179.8,173.5 1180.5,176.1 1181.2,179.3 1182.0,184.4 1182.7,190.8 1183.5,189.1 1184.4,187.3 1185.2,184.7 1186.0,193.7 1186.8,196.1 1187.5,198.6 1188.5,205.3 1189.1,211.7 1189.5,235.3 1191.1,258.5 1192.8,283.7 1193.8,310.8 1194.8,322.8 1195.7,326.1 1196.6,328.3 1197.5,331.4 1198.5,273.1 1199.3,277.2 1200.1,281.7 1200.8,286.7 1201.5,292.3 1200.8,328.0 1202.5,348.2 1203.4,353.4 1204.2,359.2 1205.1,364.6 1206.3,352.0 1207.3,346.7 1208.4,341.9 1210.1,325.4 1211.0,324.0 1211.8,324.0 1212.7,322.9 1213.5,319.1 1214.3,315.7 1215.1,312.3 1216.2,304.7 1216.9,304.9 1217.6,306.0 1218.8,310.5 1219.6,319.1 1220.2,308.0 1221.3,290.4 1222.3,292.1 1223.4,295.0 1224.3,297.8 1225.2,300.0 1226.1,302.7 1226.8,306.2 1227.6,308.4 1227.8,321.6 1229.1,333.0 1229.9,336.1 1230.8,341.1 1231.6,344.4 1232.9,357.1 1233.7,371.0 1234.2,381.1 1234.9,391.2 1235.7,398.8 1236.7,415.3 1238.0,431.7 1239.2,441.8 1240.0,451.9 1240.5,460.8"/>
<polyline fill="none" stroke="#3876b6" stroke-width="2" stroke-linejoin="round" marker-start="url(#nb)" marker-mid="url(#nb)" marker-end="url(#nb)" points="211.0,741.2 211.9,741.4 212.7,741.7 213.6,741.8 214.4,741.7 215.3,741.8 216.1,741.8 217.0,741.8 217.8,741.6 218.6,743.0 219.4,742.8 220.3,742.8 221.1,742.8 222.0,743.6 222.8,744.9 223.3,748.1 222.9,749.1 223.9,748.5 224.8,748.2 225.5,749.1 226.2,750.1 227.0,752.0 227.9,753.1 228.7,757.5 229.6,757.7 230.4,758.3 231.3,758.7 232.2,759.4 233.0,760.0 233.8,759.5 234.7,759.3 235.5,758.8 236.3,759.0 237.2,758.9 238.1,759.2 238.9,759.2 239.7,759.1 240.6,759.0 241.4,758.9 242.3,759.0 243.1,758.8 243.9,759.2 244.8,759.6 245.6,760.3 246.4,761.2 247.2,761.5 248.1,761.9 248.9,762.1 249.8,762.4 250.6,762.7 251.5,763.2 252.3,763.4 253.2,763.7 254.0,763.8 254.9,764.0 255.7,764.1 256.6,764.1 257.4,764.2 258.2,764.5 259.1,764.6 260.0,764.6 260.8,764.6 261.6,764.6 262.5,764.8 263.3,764.9 264.1,765.1 265.0,765.1 265.8,765.3 266.6,765.1 267.5,764.9 268.4,764.8 269.2,764.5 270.0,764.2 270.9,764.0 271.7,764.0 272.6,764.0 273.4,764.0 274.3,764.0 275.1,764.1 276.0,764.0 276.8,764.2 277.6,763.4 278.5,762.7 279.3,762.2 280.2,762.0 281.0,761.5 281.9,761.5 282.7,761.3 283.6,761.2 284.4,760.9 285.2,760.9 286.1,760.6 286.9,760.6 287.8,760.4 288.6,760.3 289.5,760.3 290.3,760.2 291.1,760.2 292.0,760.4 292.8,760.1 293.7,760.3 294.5,760.2 295.3,760.1 296.2,760.0 297.0,759.8 297.9,759.7 298.7,759.4 299.6,759.2 300.4,759.2 301.2,759.4 302.1,759.6 302.9,760.0 303.8,760.3 304.6,760.8 305.5,760.4 306.3,760.3 307.2,760.0 308.0,759.9 308.9,760.1 309.7,760.1 310.5,760.0 311.4,759.5 312.2,759.0 313.1,758.5 313.9,758.1 314.8,758.0 315.6,757.7 316.5,757.3 317.3,756.9 318.1,756.4 319.0,756.0 319.8,755.4 320.6,755.0 321.5,754.4 322.3,754.8 323.2,755.2 324.0,755.4 324.9,755.2 325.7,754.9 326.6,754.7 327.4,753.6 328.2,752.5 329.1,752.2 329.9,752.0 330.8,751.9 331.6,751.6 332.6,752.0 333.5,752.3 334.3,752.1 335.1,751.7 335.9,751.2 336.7,750.8 337.5,751.6 338.4,752.7 339.2,751.6 340.0,750.4 340.9,749.7 341.7,748.9 342.6,748.0 343.4,748.3 344.3,748.7 345.1,749.1 345.9,749.8 346.8,750.5 347.6,751.4 348.5,750.9 349.3,750.8 350.2,750.4 351.0,749.9 351.9,749.7 352.7,749.0 353.5,748.3 354.4,747.7 355.2,747.2 356.0,747.5 356.7,747.8 357.5,748.0 358.4,746.8 359.3,745.5 360.2,745.7 361.1,746.1 362.1,746.4 363.0,746.5 363.9,746.1 364.9,745.7 365.8,745.5 366.6,744.8 367.3,744.4 368.3,743.7 369.2,743.5 370.2,742.9 370.9,741.8 371.6,740.7 372.3,740.9 373.1,740.7 373.8,740.9 374.7,741.1 375.6,741.4 376.5,741.6 377.4,742.2 378.2,742.6 379.2,741.6 380.3,740.7 381.0,740.8 381.7,741.3 382.6,742.1 383.5,742.6 384.3,743.5 385.2,744.0 386.1,744.9 387.1,745.1 388.1,745.2 389.0,745.3 390.0,745.4 391.1,746.7 392.1,747.2 393.0,747.8 394.0,748.3 395.0,748.1 395.9,748.0 396.9,748.0 397.6,751.6 398.5,751.4 399.3,751.4 400.1,751.0 401.0,751.0 402.0,750.9 402.9,750.7 403.9,750.6 404.9,750.3 405.8,750.4 406.6,750.6 407.5,750.8 408.3,751.2 409.2,751.3 409.9,752.2 410.7,752.9 411.8,753.5 412.8,754.0 413.8,754.4 414.7,754.6 415.7,755.0 416.7,755.1 417.6,755.0 418.6,754.9 419.6,755.5 420.5,756.3 421.5,757.1 422.2,758.1 422.9,758.8 423.6,758.6 424.4,758.2 425.1,757.0 425.8,755.8 426.7,756.0 427.6,756.2 428.4,756.4 429.3,756.5 430.2,756.8 431.1,757.3 432.0,757.5 432.9,757.9 433.8,758.1 435.2,753.0 436.7,747.6 437.4,746.9 438.2,746.5 438.9,745.7 440.9,741.8 441.7,737.2 442.6,735.5 443.4,733.8 444.2,733.3 445.1,732.6 445.9,732.2 446.8,731.5 448.5,728.0 449.3,727.8 450.2,727.7 451.0,727.4 451.9,727.6 452.7,727.9 453.6,728.3 454.4,727.6 455.2,726.6 456.1,723.7 456.9,719.0 457.8,717.7 458.6,716.5 459.5,717.2 460.3,718.0 461.1,718.4 462.0,719.0 463.3,722.0 464.5,726.8 466.2,723.6 467.0,724.1 467.9,724.3 468.7,724.7 469.5,724.0 470.4,723.0 471.2,723.5 472.1,724.3 472.4,719.9 473.5,718.2 474.6,716.5 475.5,714.0 476.3,714.5 477.2,714.9 478.0,715.5 479.2,713.4 479.7,711.3 480.5,706.5 481.2,707.6 481.9,708.5 483.9,715.0 485.3,711.1 485.9,705.8 486.8,704.6 487.7,703.3 488.6,702.3 489.8,704.2 490.6,704.3 491.5,704.6 492.4,704.7 493.2,705.0 494.0,706.7 494.4,710.6 495.7,712.1 496.6,715.3 497.4,714.1 498.2,713.0 499.1,719.0 499.9,720.3 501.1,723.0 502.5,726.8 503.3,726.5 504.2,726.3 505.0,726.0 505.9,727.2 506.7,728.3 507.9,732.4 508.8,732.4 509.7,732.3 510.6,732.2 511.7,738.2 512.2,743.1 513.0,742.8 513.7,742.3 514.5,742.1 515.3,741.6 516.0,741.4 516.8,740.8 517.6,744.3 518.5,743.3 519.3,742.6 520.1,743.8 521.0,745.2 521.8,745.3 522.7,745.5 523.5,745.6 524.1,742.2 525.1,743.4 526.1,744.9 526.9,741.6 527.8,740.1 528.6,738.9 529.5,738.8 530.3,738.7 530.8,726.9 531.5,728.2 532.2,729.6 533.0,728.9 533.8,728.1 534.6,727.2 535.5,727.1 536.5,726.9 537.0,724.7 538.3,720.3 539.0,717.2 539.4,723.5 539.9,731.5 540.9,732.3 541.9,732.9 543.1,735.9 543.9,735.4 544.7,734.8 545.5,734.5 546.3,735.2 547.1,736.0 547.9,736.7 549.1,735.1 550.3,738.9 551.5,734.0 553.4,738.4 554.2,739.3 555.1,740.3 556.0,740.6 556.9,741.0 557.8,741.6 558.7,741.9 559.6,741.5 560.5,741.2 561.4,741.0 562.3,740.5 563.6,743.5 564.8,747.9 565.6,749.3 566.4,750.9 567.9,746.8 568.9,743.0 569.8,742.3 570.8,741.9 571.7,741.6 572.6,741.2 573.5,740.9 574.4,740.5 575.2,739.4 576.1,738.6 577.5,743.3 578.3,742.0 579.1,740.6 579.9,739.4 580.8,740.2 581.6,741.1 582.4,740.5 583.2,739.7 584.0,739.2 584.8,739.2 585.6,739.5 586.4,739.5 587.2,739.4 588.0,739.9 588.8,740.4 589.6,740.8 590.5,740.7 591.4,740.4 592.3,740.3 593.2,740.0 594.4,743.8 595.2,745.2 596.1,746.8 597.0,748.3 598.0,749.6 598.7,749.6 599.5,750.0 600.2,750.1 601.2,751.5 602.1,752.8 603.0,751.4 604.0,750.1 605.2,746.0 606.0,747.0 606.9,747.9 608.1,744.1 609.0,744.3 609.9,744.6 610.8,744.6 611.7,744.9 612.6,744.7 613.5,744.7 614.3,744.6 615.2,744.2 616.1,744.1 617.2,740.7 618.1,741.0 618.9,741.5 619.8,741.7 620.8,740.9 621.7,740.0 622.7,739.3 623.7,739.7 624.6,739.9 625.6,740.2 626.3,739.2 627.0,738.0 627.8,737.3 628.5,736.7 629.5,728.5 630.1,736.2 630.8,740.4 631.5,741.8 632.3,743.3 633.9,746.8 634.7,747.3 635.4,747.9 636.2,748.5 637.2,747.1 638.1,745.4 639.1,746.2 640.1,746.8 641.6,743.3 642.4,744.1 643.1,745.0 643.9,745.7 645.5,742.2 646.3,742.4 647.1,743.0 647.9,743.3 648.7,743.5 649.5,742.3 650.3,741.1 651.2,740.8 652.2,740.4 653.0,741.2 653.7,742.4 654.5,743.3 655.5,742.5 656.4,741.9 657.4,741.4 658.4,740.8 659.4,740.9 660.3,741.0 661.3,741.3 662.2,741.9 663.2,742.4 663.6,745.7 664.4,746.3 665.3,747.0 666.1,747.6 667.0,748.8 668.0,749.8 669.0,751.0 669.9,751.7 670.9,752.9 671.8,751.9 672.8,750.9 673.8,751.4 674.8,751.8 675.8,750.7 676.7,749.6 677.7,749.3 678.6,749.0 679.6,748.7 681.1,744.8 681.5,741.7 683.4,745.7 684.4,744.6 685.4,743.3 686.4,743.5 687.3,743.9 688.3,744.1 689.2,743.0 690.2,741.7 691.2,740.9 692.1,740.4 693.0,739.1 694.0,737.8 695.0,738.6 696.0,739.8 697.0,741.2 697.9,742.8 698.9,741.8 699.8,741.0 700.8,740.2 702.7,744.1 703.4,745.2 704.1,746.5 704.9,745.6 705.8,744.7 706.6,743.7 707.4,743.4 708.1,742.9 708.9,742.5 709.7,742.6 710.5,742.3 711.3,742.3 712.0,750.3 712.8,750.9 713.6,751.4 714.4,751.9 715.2,751.8 715.9,751.6 716.7,751.5 717.5,752.5 718.3,753.1 719.3,753.7 720.3,754.0 721.2,753.1 722.2,752.4 723.0,752.0 723.8,751.8 724.6,751.2 725.4,751.7 726.1,752.4 726.9,753.1 727.7,752.7 728.5,752.1 729.7,750.5 730.7,751.0 731.6,751.7 732.4,752.8 733.2,753.7 734.0,754.3 734.8,754.9 735.6,754.7 736.3,754.4 737.1,754.0 737.9,754.8 738.7,755.3 739.5,754.9 740.2,754.6 741.0,754.2 741.8,754.1 742.6,754.2 743.4,754.2 744.2,754.2 745.4,755.6 745.7,751.2 746.5,752.4 747.3,753.3 748.1,753.8 748.8,753.9 749.6,754.4 749.9,758.1 750.9,758.1 751.8,758.2 752.8,758.5 753.5,759.3 754.3,760.2 755.1,760.8 755.9,761.2 756.7,761.7 757.5,761.6 758.2,761.4 759.0,761.3 759.8,762.0 760.6,763.1 761.4,763.2 762.1,763.5 762.9,763.4 763.7,763.9 764.5,764.2 765.3,764.5 766.1,764.4 766.8,764.5 767.6,764.3 768.0,761.0 768.9,760.6 769.9,760.3 770.8,759.9 771.6,759.4 772.3,758.9 773.1,758.5 773.9,758.1 774.7,758.0 775.5,757.7 776.3,757.8 777.0,757.0 777.8,756.2 778.8,755.1 779.9,754.2 780.8,753.4 781.7,752.6 782.5,753.2 783.3,753.7 784.1,754.2 784.9,754.7 785.6,755.2 786.4,755.8 787.2,757.0 788.0,757.9 788.8,756.4 789.6,754.9 790.4,754.6 791.2,754.7 791.9,754.2 792.7,754.2 793.5,750.7 794.3,750.6 795.0,750.2 795.8,750.0 796.6,749.8 797.4,750.2 798.2,750.3 799.0,750.7 800.0,749.9 801.0,749.0 801.9,748.4 802.9,747.5 803.7,748.3 804.5,749.1 805.3,749.5 806.0,749.8 806.8,750.3 807.6,750.4 808.3,750.6 809.1,750.8 809.9,751.0 810.7,750.7 811.5,750.2 812.3,750.0 813.1,750.5 813.8,751.1 814.6,751.7 815.4,752.6 816.2,753.3 817.0,753.3 817.8,753.2 818.5,753.0 819.3,753.0 820.1,754.3 820.9,755.6 821.7,756.1 822.5,756.3 823.2,756.8 824.0,757.1 824.8,756.8 825.6,756.5 826.5,756.0 827.3,755.6 828.6,758.1 829.4,758.4 830.2,758.9 831.0,759.2 831.8,758.6 832.6,757.8 833.4,757.1 834.4,756.5 835.4,756.0 836.4,755.4 837.2,755.2 838.0,755.1 838.7,755.0 839.5,755.0 840.7,753.6 841.6,753.6 842.5,753.6 843.4,753.3 844.3,753.4 845.3,753.3 846.3,753.7 847.3,753.8 848.3,754.0 849.3,754.3 850.3,754.6 851.5,748.8 852.4,748.2 853.3,747.9 854.5,749.7 855.7,746.9 856.6,746.0 857.5,745.3 858.3,746.4 859.1,747.3 859.9,748.3 861.1,746.4 861.9,746.4 862.8,746.4 863.6,746.1 864.5,745.2 865.4,744.4 867.2,747.8 868.1,748.6 869.0,749.4 869.8,755.3 870.6,754.5 871.4,753.8 872.6,752.7 873.5,752.8 874.4,753.0 875.3,752.2 876.2,751.6 877.0,751.4 877.8,750.9 878.6,750.5 879.5,750.1 880.4,750.0 881.3,750.2 882.2,750.2 883.0,750.7 883.8,751.1 884.6,751.3 885.5,750.9 886.4,750.4 887.2,750.7 888.1,751.5 888.9,751.9 889.8,752.4 890.7,752.7 891.6,753.4 892.5,753.9 893.4,753.1 894.3,752.4 895.3,751.6 896.4,750.9 897.3,752.7 898.1,753.1 898.9,753.3 899.7,753.8 900.5,753.6 901.3,753.2 902.1,753.0 902.9,752.7 903.7,752.8 904.5,752.5 905.4,752.7 906.3,752.8 907.2,753.0 908.1,753.2 909.3,754.0 910.2,754.2 911.1,753.9 912.1,754.1 913.0,754.0 913.8,754.0 914.6,753.5 915.4,753.5 916.6,752.5 917.5,752.0 918.4,751.5 919.4,751.9 920.4,752.1 921.4,752.4 922.2,752.8 923.0,752.9 923.8,753.2 924.7,753.1 925.6,752.8 926.5,753.5 927.4,754.3 928.2,754.7 929.0,755.0 929.8,755.1 930.7,755.8 931.6,756.5 932.5,757.1 933.4,757.9 934.3,757.6 935.2,757.5 936.1,757.1 937.0,757.1 937.8,757.4 938.5,757.6 939.3,757.9 940.1,758.3 941.1,758.4 942.0,758.8 943.0,758.8 943.9,759.1 944.9,759.4 945.8,758.5 946.7,757.9 947.9,755.5 948.6,756.0 949.4,756.8 950.1,757.5 950.8,758.0 951.5,758.3 952.2,757.6 953.0,756.6 953.7,755.8 954.4,754.0 955.1,753.6 955.9,753.4 956.6,752.9 957.4,752.8 958.3,752.8 959.1,752.8 959.9,752.5 960.8,752.7 961.6,752.6 962.4,753.4 963.1,754.5 964.0,754.4 964.8,754.3 965.7,754.0 966.5,753.8 967.4,753.7 968.3,754.2 969.2,754.6 970.1,755.0 971.0,755.3 971.8,754.5 972.5,753.9 973.5,754.3 974.4,754.3 975.4,754.7 976.1,756.8 976.8,757.3 977.6,757.8 978.3,758.1 979.3,758.7 980.4,759.6 981.4,760.0 982.3,760.4 983.3,760.7 984.3,760.2 985.2,759.8 986.2,759.4 986.9,758.9 987.7,758.4 988.4,758.1 989.3,757.6 990.2,757.2 991.1,757.0 992.0,756.5 993.0,757.2 993.9,757.9 994.9,758.5 996.0,759.0 997.0,759.4 997.7,759.0 998.5,758.2 999.2,757.8 1000.1,757.6 1001.0,757.2 1001.9,757.2 1002.8,757.0 1003.6,755.7 1005.0,750.9 1005.7,750.7 1006.5,750.4 1007.2,750.1 1008.6,741.6 1009.3,742.4 1010.1,743.3 1010.8,744.2 1012.9,740.8 1013.9,741.0 1014.8,741.4 1015.8,741.6 1016.5,742.3 1017.3,742.8 1018.0,743.2 1018.7,742.8 1019.5,742.1 1020.2,741.4 1021.2,741.1 1022.1,740.9 1023.1,740.6 1023.8,739.4 1024.5,739.9 1025.2,740.3 1026.0,741.8 1026.7,743.2 1027.7,742.7 1028.6,742.1 1029.4,742.6 1030.3,743.0 1030.3,750.9 1031.1,750.2 1031.9,749.9 1032.7,749.1 1033.5,748.6 1034.6,749.3 1034.3,753.5 1035.1,754.4 1035.9,754.7 1036.7,755.7 1037.5,756.2 1038.5,756.7 1039.4,757.4 1040.4,757.8 1041.2,757.7 1042.1,758.0 1043.0,758.0 1043.8,758.2 1044.7,758.3 1045.5,758.3 1046.5,757.8 1047.4,757.4 1048.4,756.8 1049.3,756.9 1050.2,756.5 1051.1,756.6 1052.0,756.5 1052.9,756.5 1053.7,756.5 1054.6,756.4 1055.4,756.6 1056.3,756.5 1057.0,755.6 1057.8,755.0 1058.5,754.0 1059.2,754.3 1060.0,754.5 1060.7,754.9 1061.8,754.4 1062.8,753.7 1065.0,757.5 1066.0,756.4 1066.9,755.7 1067.9,754.7 1068.8,754.6 1069.6,754.6 1070.5,754.4 1071.3,754.1 1072.2,754.0 1073.2,754.5 1074.1,755.1 1075.1,755.7 1076.1,755.2 1077.0,755.2 1078.0,754.9 1078.7,754.2 1079.5,753.7 1080.2,753.2 1081.1,753.0 1082.0,752.9 1082.9,752.9 1083.8,752.7 1084.5,750.1 1085.2,749.7 1086.0,749.3 1086.9,748.5 1087.8,747.6 1088.7,748.2 1089.6,749.0 1090.7,749.2 1091.7,749.6 1092.5,751.3 1093.2,751.8 1093.9,752.6 1094.6,752.4 1095.4,752.0 1096.1,751.9 1097.0,750.7 1097.9,749.5 1098.8,748.2 1099.6,747.0 1100.5,745.6 1101.3,744.5 1102.2,743.8 1103.0,743.3 1103.9,742.8 1104.7,741.9 1105.6,741.2 1106.4,740.5 1107.2,740.0 1108.1,739.2 1108.9,738.5 1109.7,737.8 1110.6,737.0 1111.4,736.2 1112.2,736.0 1113.1,736.0 1113.9,735.8 1114.7,735.6 1115.7,734.2 1116.5,731.6 1117.8,726.1 1119.0,723.3 1119.9,718.5 1120.3,706.5 1121.1,705.8 1121.9,705.3 1122.7,703.9 1123.5,702.3 1123.9,715.6 1124.7,715.7 1125.5,716.1 1126.2,716.3 1127.0,716.4 1127.5,711.6 1128.5,710.7 1129.6,710.0 1130.4,709.2 1131.1,708.6 1131.9,707.7 1132.8,707.1 1133.6,706.3 1134.5,705.6 1135.2,704.1 1136.2,703.1 1137.2,702.2 1138.5,704.4 1139.3,703.8 1140.2,703.2 1141.1,701.6 1142.4,702.8 1143.1,703.6 1143.8,704.3 1143.1,709.4 1143.9,710.4 1144.7,711.3 1145.6,713.0 1146.4,714.5 1147.1,713.6 1147.8,712.5 1148.4,700.8 1149.1,700.2 1149.8,699.6 1151.1,702.6 1152.4,703.8 1153.7,709.5 1155.7,712.8 1156.4,713.6 1157.1,714.6 1158.0,715.3 1159.0,715.9 1160.0,715.2 1161.0,714.6 1162.0,714.8 1163.0,714.9 1163.7,712.8 1165.7,708.3 1167.0,702.6 1168.0,701.0 1169.0,699.6 1170.3,696.3 1170.3,709.2 1171.6,705.6 1172.6,704.1 1173.6,702.8 1174.6,703.6 1175.6,704.4 1176.5,704.2 1177.4,703.7 1178.3,703.5 1179.2,702.6 1180.2,701.5 1181.2,702.5 1182.2,703.2 1183.0,702.9 1183.8,702.5 1184.5,701.9 1185.3,701.6 1186.6,703.5 1186.2,705.9 1187.2,706.6 1188.2,707.6 1189.3,708.5 1189.5,712.5 1190.2,715.1 1191.1,715.5 1191.9,716.0 1192.4,720.1 1193.7,724.1 1194.4,724.4 1195.1,724.9 1196.2,725.8 1197.2,726.8 1198.0,726.3 1198.8,725.6 1199.9,715.1 1200.6,722.2 1201.9,724.9 1202.7,725.9 1203.6,727.2 1204.4,728.2 1205.2,727.9 1206.0,727.5 1206.8,727.3 1207.6,727.0 1208.4,726.4 1209.3,725.8 1210.1,725.3 1211.0,724.4 1211.8,723.7 1212.7,722.7 1213.6,721.9 1214.4,721.0 1216.5,717.3 1217.5,715.9 1218.5,714.7 1219.5,715.0 1220.5,714.9 1221.5,715.2 1222.8,717.5 1223.7,718.5 1224.6,719.5 1225.3,720.8 1226.1,722.1 1227.1,725.6 1228.1,727.0 1229.1,728.2 1230.4,730.2 1231.6,732.7 1232.9,735.3 1234.2,737.6 1235.4,740.5 1236.7,742.8 1238.0,746.2 1239.2,748.5 1240.5,750.5"/>
<polyline fill="none" stroke="#f27e04" stroke-width="2" stroke-linejoin="round" marker-start="url(#no)" marker-mid="url(#no)" marker-end="url(#no)" points="211.0,755.7 211.9,756.0 212.7,756.3 213.6,756.6 214.4,756.4 215.3,756.4 216.1,756.4 217.0,756.4 217.8,756.2 218.6,756.2 219.5,756.4 220.3,756.5 221.2,756.8 222.0,756.9 222.8,757.4 223.7,758.2 224.5,758.8 225.3,759.7 226.2,760.3 227.0,761.1 227.8,762.2 228.7,763.1 229.5,763.2 230.4,763.2 231.2,763.5 232.1,763.6 232.9,763.4 233.8,763.3 234.6,763.1 235.5,763.1 236.3,762.9 237.2,762.0 238.0,761.1 238.8,760.8 239.7,760.8 240.6,760.7 241.4,760.4 242.2,760.4 243.1,760.5 244.0,760.6 244.8,760.8 245.6,761.4 246.5,761.8 247.3,762.1 248.2,762.2 249.0,762.2 249.8,762.2 250.7,762.1 251.5,762.6 252.4,763.0 253.2,763.6 254.1,763.3 254.9,763.0 255.8,762.6 256.6,762.3 257.4,762.5 258.2,762.8 259.1,763.1 259.9,763.4 260.8,763.3 261.6,763.2 262.4,763.1 263.3,763.1 264.1,763.4 265.0,763.6 265.8,763.8 266.6,764.9 267.5,766.1 268.3,765.7 269.2,765.5 270.0,765.2 270.9,765.1 271.7,765.1 272.5,765.2 273.4,765.2 274.3,762.7 275.1,762.1 276.0,761.7 276.8,761.2 277.6,760.8 278.5,760.8 279.3,760.7 280.1,760.6 281.0,760.6 281.9,760.4 282.7,760.4 283.6,760.0 284.4,759.5 285.2,759.1 286.1,758.7 286.9,758.7 287.8,758.8 288.6,758.8 289.4,759.0 290.2,758.8 291.1,758.9 291.9,758.5 292.8,758.5 293.7,758.8 294.5,759.2 295.4,759.4 296.2,759.1 297.0,758.7 297.9,758.7 298.7,758.7 299.5,758.5 300.4,758.7 301.3,761.1 302.1,761.7 303.0,762.4 303.8,763.2 304.6,762.7 305.5,762.2 306.3,761.9 307.1,761.5 308.0,761.4 308.8,761.1 309.7,761.6 310.5,762.4 311.4,762.9 312.2,762.9 313.0,762.9 313.9,762.9 314.7,762.9 315.6,762.5 316.4,762.4 317.2,762.1 318.1,761.7 319.0,761.1 319.8,760.3 320.7,759.6 321.5,760.0 322.4,760.2 323.2,760.4 324.0,760.6 324.8,760.4 325.7,760.1 326.5,759.7 327.4,759.5 328.2,759.2 329.1,758.9 329.9,758.8 330.8,758.7 331.6,759.1 332.5,759.4 333.3,759.8 334.2,760.2 335.0,760.4 335.8,760.3 336.7,760.0 337.5,760.0 338.3,760.0 339.2,759.8 340.0,759.6 340.9,759.5 341.7,759.3 342.6,759.0 343.4,758.9 344.2,758.7 345.1,758.7 346.0,759.5 346.8,760.2 347.6,759.3 348.5,758.3 349.3,757.5 350.1,757.1 351.0,756.7 351.9,756.4 352.7,756.2 353.6,755.9 354.4,755.5 355.2,755.0 356.1,754.7 356.9,754.2 357.7,754.0 358.5,753.7 359.3,753.2 360.2,753.1 361.1,753.0 361.9,752.9 362.8,752.8 363.7,752.9 364.6,752.6 365.5,752.1 366.4,751.8 367.3,751.3 368.0,750.0 368.7,749.0 369.4,748.3 370.2,747.9 370.9,747.3 372.1,744.4 373.0,744.7 373.8,744.9 374.5,747.3 375.5,747.8 376.4,748.3 377.4,749.0 378.9,745.4 379.3,743.0 380.3,742.1 381.2,742.3 382.0,742.3 382.9,742.5 383.7,742.5 384.6,742.7 385.4,743.3 386.1,743.7 387.0,743.8 387.8,743.8 388.7,743.7 389.5,743.8 390.4,743.7 391.4,744.0 392.3,744.5 393.3,745.0 394.0,745.6 394.8,746.3 395.5,746.8 396.2,747.5 396.9,748.5 397.6,752.9 398.3,752.7 399.1,752.3 399.8,751.9 400.7,752.0 401.6,751.8 402.5,751.7 403.4,751.7 404.9,755.8 405.6,757.1 406.3,758.5 407.0,758.3 407.8,758.1 408.5,757.6 409.2,758.3 410.0,758.8 410.7,759.4 411.8,760.0 412.8,760.7 413.7,761.0 414.6,761.1 415.4,760.9 416.3,761.1 417.2,761.2 418.1,761.6 419.0,761.9 419.9,762.0 420.8,762.4 421.5,762.7 422.2,763.2 423.1,762.9 424.0,762.6 424.9,762.1 425.8,761.9 426.7,762.1 427.6,762.1 428.4,762.3 429.3,762.2 430.2,762.4 431.1,762.6 432.0,762.6 432.9,762.5 433.8,762.6 434.5,762.3 435.3,761.9 436.0,761.4 436.7,757.1 437.4,753.9 438.3,753.2 439.1,752.1 440.0,751.3 440.9,750.6 441.7,747.1 442.6,746.5 443.4,745.7 444.3,745.0 445.1,744.1 446.0,743.1 446.8,742.5 447.6,742.1 448.5,741.4 449.3,740.8 450.2,740.6 451.0,739.9 451.9,739.7 452.7,739.6 453.5,739.5 454.4,739.7 455.2,739.5 456.1,737.4 456.9,735.1 457.8,734.7 458.6,734.3 459.5,734.9 460.3,735.7 461.1,735.5 462.0,735.7 462.8,739.7 463.6,740.8 464.5,742.0 465.3,741.4 466.2,741.0 467.0,740.6 467.9,740.7 468.7,740.8 469.6,740.8 470.3,741.2 471.1,741.6 471.8,742.0 472.4,738.7 473.1,737.9 473.9,737.3 474.6,736.5 475.5,735.7 476.3,735.1 477.0,735.5 477.8,736.1 478.5,736.5 479.7,733.6 480.5,730.5 481.4,731.3 482.2,732.2 483.0,733.7 483.9,735.3 484.8,732.1 485.6,729.0 486.5,728.5 487.3,728.2 488.1,727.7 489.0,727.5 489.8,727.7 490.7,728.2 491.5,728.6 492.2,728.1 493.0,727.8 493.7,727.3 494.9,729.6 495.7,731.1 496.5,731.3 497.2,731.3 498.0,731.4 498.8,731.5 499.1,736.6 500.1,737.7 501.1,738.7 501.8,739.5 502.5,740.6 503.5,740.4 504.5,740.2 505.5,740.1 506.7,742.2 507.5,744.9 508.4,744.7 509.2,744.4 510.1,744.3 511.7,748.3 512.6,750.6 513.5,750.7 514.3,751.1 515.1,751.1 516.0,751.4 517.3,749.6 518.3,749.9 519.3,750.2 520.7,754.8 521.6,754.8 522.6,754.5 523.5,754.4 524.4,754.0 525.2,753.8 526.9,750.6 527.8,750.4 528.6,750.1 529.4,749.9 530.3,749.6 531.3,749.7 532.2,750.1 533.2,750.2 534.2,750.6 535.0,750.1 535.8,749.8 536.6,749.3 537.4,748.6 538.2,748.2 539.0,747.8 539.9,748.6 540.7,749.0 541.5,749.7 542.3,750.1 543.1,750.6 544.0,750.5 544.9,750.3 545.8,750.0 546.7,749.8 547.5,750.2 548.3,750.3 549.1,750.6 549.9,750.4 550.7,749.8 551.5,749.6 552.7,751.7 553.6,752.1 554.5,752.3 555.4,752.5 556.3,752.8 557.1,753.2 557.9,753.4 558.7,753.7 559.6,753.5 560.5,753.0 561.4,752.8 562.3,752.6 563.1,754.0 564.0,755.3 564.8,756.1 565.5,756.6 566.5,755.8 567.4,755.1 568.4,754.5 569.2,753.7 570.0,752.6 570.8,751.7 571.7,751.1 572.6,750.8 573.5,750.3 574.4,749.8 575.3,748.9 576.3,747.8 577.3,748.0 578.2,748.2 579.2,748.5 580.1,748.8 581.0,749.1 581.9,749.6 582.8,749.8 583.7,749.8 584.5,749.8 585.4,749.8 586.3,749.6 587.2,749.8 588.0,749.7 588.9,749.6 589.8,749.7 590.7,749.8 591.6,749.8 592.5,750.1 593.3,750.9 594.1,751.5 594.9,752.3 595.7,753.0 596.5,753.6 597.3,754.5 598.3,754.7 599.2,755.2 600.2,755.6 601.2,756.9 602.1,758.3 603.0,757.3 604.0,756.1 604.9,754.8 605.7,753.4 606.6,753.3 607.5,752.8 608.4,752.8 609.3,752.6 610.2,752.4 611.1,752.2 611.9,751.9 612.8,751.7 613.7,751.5 614.7,750.9 615.6,750.2 616.6,749.6 617.9,748.1 618.9,748.4 619.8,748.9 620.8,749.2 621.8,748.4 622.7,747.8 623.7,747.2 624.5,747.5 625.4,748.0 626.2,748.5 627.5,745.9 628.9,737.4 629.6,738.4 630.4,747.6 631.2,748.8 632.0,750.3 632.8,751.0 633.5,751.9 634.3,752.9 635.3,752.5 636.2,752.2 637.2,751.8 638.2,753.0 639.1,754.0 640.0,752.9 641.0,751.8 642.0,752.2 642.9,752.3 643.9,752.7 644.9,750.3 645.9,750.6 646.8,750.8 647.8,751.1 648.8,750.9 649.7,750.5 650.7,750.3 651.7,749.6 652.6,748.7 653.5,750.2 654.5,751.6 655.5,751.2 656.4,751.0 657.4,750.7 658.4,751.1 659.3,751.1 660.3,751.6 661.2,750.8 662.2,750.3 663.2,751.5 664.2,752.7 665.2,753.3 666.1,754.2 667.0,755.4 668.0,756.4 669.0,756.3 669.9,756.3 670.9,756.1 671.9,755.7 672.8,755.3 673.8,754.6 674.8,754.4 675.7,754.4 676.7,754.2 677.7,753.4 678.6,752.9 679.5,753.1 680.5,753.3 681.5,747.2 682.5,747.8 683.4,748.5 684.4,748.9 685.4,748.7 686.3,748.1 687.3,747.9 688.2,748.5 689.2,749.4 690.2,747.9 691.1,746.8 692.1,746.0 693.0,745.5 694.0,744.8 695.6,748.1 696.5,748.2 697.5,748.3 698.3,749.1 699.0,749.9 699.8,750.7 700.8,751.1 701.7,751.8 702.7,752.4 703.7,753.6 704.6,754.4 705.5,753.9 706.4,753.2 707.3,752.6 708.1,752.4 708.9,752.6 709.7,752.3 710.5,752.2 711.3,752.8 712.0,753.2 712.8,753.9 713.6,754.0 714.4,754.2 715.2,754.4 716.0,754.6 716.3,758.3 717.5,760.2 718.3,760.3 719.1,760.6 719.9,760.8 720.7,760.3 721.4,760.0 722.2,759.5 723.0,759.7 723.8,759.9 724.6,760.1 725.4,759.6 726.1,759.3 726.9,759.0 727.8,758.6 728.8,758.0 729.7,757.6 730.6,757.8 731.5,758.4 732.4,758.6 733.2,759.2 734.0,760.1 734.9,760.3 735.9,760.1 736.8,760.2 737.8,760.5 738.7,760.4 739.5,760.3 740.2,760.2 741.0,760.0 741.8,759.9 742.6,760.2 743.3,760.3 744.1,760.4 744.9,760.6 745.7,761.4 746.5,762.4 747.3,761.6 748.1,760.8 748.9,760.1 749.6,763.4 750.4,764.3 751.2,763.8 752.0,763.5 752.8,762.9 753.6,762.6 754.4,763.5 755.1,764.5 756.0,764.6 757.0,764.8 757.9,764.9 758.9,765.0 759.8,765.0 759.0,763.4 759.9,763.6 760.9,763.8 761.8,764.1 762.8,764.1 763.7,764.3 764.5,764.2 765.3,764.0 766.1,763.8 766.9,763.4 767.3,760.2 768.4,759.4 769.2,759.2 770.0,758.9 770.8,758.8 771.5,757.7 772.3,756.5 773.1,756.5 773.9,756.3 774.7,756.2 775.5,756.2 776.2,754.7 777.0,753.3 777.8,752.1 778.6,750.9 779.4,750.0 780.2,749.5 780.9,749.1 781.7,748.8 782.5,749.4 783.3,750.1 784.1,750.5 784.9,750.7 785.7,751.0 786.4,751.6 787.2,751.9 788.0,751.3 788.8,750.7 789.6,750.1 790.4,749.8 791.1,749.7 791.9,749.6 793.0,747.1 793.9,746.7 794.9,746.2 795.8,745.7 796.8,745.9 797.7,746.0 798.7,745.9 799.0,747.5 799.9,747.5 800.9,747.6 801.8,747.6 802.4,752.4 803.7,754.2 804.5,754.8 805.2,755.5 806.0,756.2 807.0,756.5 808.0,757.1 808.9,757.4 809.9,757.8 810.7,757.2 811.5,757.0 812.3,756.7 813.1,756.2 813.9,756.5 814.7,756.6 815.4,756.7 816.2,757.1 817.1,757.5 818.1,757.9 819.0,758.1 819.3,760.2 820.1,760.5 820.9,760.6 821.7,760.7 822.5,761.0 823.3,760.8 824.2,760.4 825.0,760.3 826.0,760.3 827.0,760.0 828.0,759.9 829.0,760.3 830.0,761.1 831.0,761.6 831.9,761.1 832.8,760.7 833.7,760.3 834.6,760.0 835.4,759.4 836.2,758.5 837.0,757.9 837.8,758.1 838.7,758.3 839.5,758.4 840.7,756.8 841.5,756.7 842.3,756.9 843.1,757.1 844.3,754.7 845.1,754.9 845.9,754.8 846.7,754.9 847.7,755.3 848.7,755.5 849.7,755.8 850.6,755.6 851.5,755.1 852.4,755.0 853.3,754.6 854.5,755.8 855.5,755.3 856.5,754.7 857.5,754.0 858.3,754.6 859.1,755.3 859.9,756.0 860.7,755.6 861.5,755.1 862.3,754.9 863.2,754.7 864.2,754.4 863.8,747.2 864.6,745.9 865.4,744.8 866.3,745.6 867.2,746.5 868.1,747.3 868.9,748.4 869.8,749.1 870.6,748.5 871.4,748.0 872.3,747.5 873.2,747.1 874.1,746.3 875.0,745.7 876.2,746.8 877.4,745.8 878.6,746.5 879.8,745.6 880.7,745.4 881.6,745.4 881.9,752.5 882.8,752.5 883.7,752.6 884.6,752.4 885.7,752.2 886.7,751.7 887.5,752.5 888.3,753.2 889.1,753.7 889.9,754.4 890.7,754.9 891.3,756.5 891.9,758.0 892.7,757.6 893.5,757.2 894.3,756.8 895.1,756.9 895.9,756.8 896.7,757.1 897.5,757.8 898.3,758.3 899.1,759.1 899.9,758.9 900.8,758.7 901.6,758.4 902.5,758.1 903.3,757.9 903.9,756.5 905.1,755.6 906.1,755.9 907.1,756.3 908.1,756.5 908.9,756.5 909.7,756.3 910.5,756.4 911.4,756.6 912.4,756.4 913.3,756.7 914.2,756.8 915.4,755.4 916.2,755.0 917.0,754.2 917.8,753.8 918.6,754.0 919.4,754.4 920.2,754.6 921.1,754.5 922.0,754.5 922.9,754.5 923.8,754.6 924.7,754.6 925.6,754.7 926.6,755.1 927.6,755.6 928.6,756.0 929.5,756.7 930.4,757.3 931.0,760.0 932.0,760.5 933.0,760.8 934.0,761.2 935.2,760.3 936.1,759.4 937.0,758.3 938.0,758.6 938.9,759.2 939.7,759.7 940.5,760.0 941.3,760.6 941.9,757.9 943.1,756.9 944.3,758.4 945.2,758.5 946.1,758.7 947.0,758.7 947.9,758.8 950.1,762.1 951.1,761.9 952.0,761.8 953.0,761.7 953.7,761.0 954.4,760.4 955.1,760.1 955.9,759.7 956.6,759.1 957.6,758.8 958.5,758.5 959.5,758.0 960.4,757.9 961.2,757.7 962.1,757.6 962.6,760.4 963.4,760.1 964.2,759.8 965.1,759.5 965.9,759.2 966.7,758.8 967.6,759.2 968.5,759.5 969.4,760.2 970.3,760.4 971.3,760.0 972.2,759.9 973.2,759.4 974.2,759.8 975.1,760.5 976.1,760.7 977.0,760.9 977.9,761.2 978.8,761.1 979.7,761.4 980.4,762.3 981.1,763.2 981.8,763.3 982.6,763.6 983.3,763.7 984.2,763.5 985.1,763.2 986.0,763.0 986.9,762.7 987.9,762.4 988.8,761.7 989.8,761.4 990.7,761.1 991.5,760.8 992.4,760.4 993.2,760.7 994.0,760.8 994.8,761.3 995.6,761.4 996.6,761.7 997.5,762.3 998.5,762.6 999.2,760.4 1000.1,760.3 1001.0,760.0 1001.9,760.0 1002.8,759.8 1003.5,759.6 1004.3,759.9 1005.0,759.8 1005.7,756.6 1006.4,756.2 1007.2,755.9 1007.9,755.3 1009.3,751.6 1010.0,750.8 1010.8,749.8 1011.5,749.0 1012.2,748.3 1012.9,748.0 1013.9,747.9 1014.8,747.8 1015.8,748.0 1016.5,748.9 1017.3,749.6 1018.0,750.6 1018.7,749.9 1019.5,749.4 1020.2,749.0 1021.2,748.4 1022.3,748.0 1023.2,747.4 1024.2,746.7 1025.0,747.2 1025.9,747.8 1026.7,748.3 1027.4,747.7 1028.2,747.3 1028.9,746.8 1029.6,752.9 1030.7,753.0 1031.7,753.2 1032.6,752.6 1033.4,751.8 1034.3,751.3 1035.4,753.9 1036.3,754.4 1037.3,754.9 1038.2,755.3 1038.9,756.0 1039.7,756.6 1040.4,757.5 1041.3,757.3 1042.2,757.3 1043.0,757.2 1043.9,757.1 1044.8,757.1 1045.7,756.8 1046.6,756.3 1047.5,755.8 1048.4,755.2 1049.1,756.5 1050.1,756.6 1051.0,756.4 1052.0,756.5 1052.7,758.5 1053.6,758.3 1054.5,758.0 1055.4,757.6 1056.3,757.5 1057.3,757.6 1058.2,757.5 1059.2,757.6 1060.0,758.5 1060.7,759.1 1061.6,758.9 1062.6,758.5 1063.5,758.3 1064.3,761.2 1065.2,760.8 1066.1,760.4 1067.0,759.9 1067.9,759.4 1068.8,759.3 1069.7,759.0 1070.6,758.9 1071.5,758.8 1072.4,759.4 1073.3,759.9 1074.2,760.6 1075.1,761.1 1076.0,760.7 1076.9,760.2 1077.8,759.7 1078.7,759.4 1079.4,758.6 1080.2,757.7 1080.9,756.8 1081.6,757.5 1082.4,758.0 1083.1,758.8 1084.0,758.2 1084.8,757.8 1085.7,757.5 1086.5,756.8 1087.4,756.5 1088.1,755.8 1088.8,755.0 1089.7,755.2 1090.7,755.1 1091.6,755.2 1092.5,755.2 1091.7,752.9 1092.7,754.1 1093.6,755.4 1094.6,756.8 1095.4,753.5 1097.5,749.6 1098.4,748.1 1099.2,746.5 1100.1,745.1 1100.9,743.7 1101.8,742.5 1102.6,741.1 1103.4,739.3 1104.3,737.7 1105.1,735.9 1106.0,734.7 1106.8,733.5 1107.7,732.4 1108.7,731.1 1109.7,729.6 1110.6,728.3 1111.4,727.0 1112.4,726.9 1113.3,727.0 1114.2,727.2 1115.2,727.0 1116.5,723.9 1117.8,718.7 1119.0,715.2 1119.9,710.4 1120.9,710.2 1121.9,709.8 1122.6,708.3 1123.3,706.2 1124.2,705.9 1125.2,705.8 1126.1,706.4 1127.0,706.8 1127.5,700.8 1128.6,698.6 1129.5,698.5 1130.3,698.6 1131.2,698.7 1131.9,697.4 1132.9,696.7 1133.9,696.2 1135.5,692.8 1136.4,690.4 1137.4,691.8 1138.4,692.8 1139.7,691.3 1140.5,689.8 1141.3,688.7 1142.0,689.8 1142.8,690.9 1143.6,693.9 1144.5,694.4 1145.5,694.8 1146.5,694.5 1147.5,694.4 1148.2,695.1 1149.0,695.7 1148.1,696.9 1147.3,698.1 1146.4,699.2 1147.2,699.0 1148.1,699.2 1149.0,699.0 1149.8,699.0 1150.7,699.4 1151.5,699.6 1152.4,699.9 1153.7,700.5 1154.4,705.2 1155.7,707.6 1156.1,709.2 1156.9,710.0 1157.7,711.0 1158.7,710.5 1159.7,709.8 1161.0,711.9 1161.8,712.7 1162.7,713.4 1163.0,710.7 1163.7,705.6 1165.0,704.7 1165.7,699.2 1167.0,698.9 1167.7,695.6 1168.8,694.1 1169.5,693.0 1170.2,692.0 1171.0,690.5 1171.7,688.9 1172.4,687.5 1173.1,686.0 1174.0,685.8 1175.0,685.8 1176.0,687.1 1176.8,685.8 1177.5,684.3 1178.2,683.1 1178.9,682.1 1179.8,680.8 1180.5,681.4 1181.2,682.1 1182.0,683.3 1182.7,684.7 1183.5,684.3 1184.4,683.9 1185.2,683.4 1186.0,685.4 1186.8,685.9 1187.5,686.5 1188.5,688.0 1189.1,689.5 1189.5,694.8 1191.1,700.1 1192.8,705.8 1193.8,711.9 1194.8,714.6 1195.7,715.4 1196.6,715.9 1197.5,716.6 1198.5,703.4 1199.3,704.3 1200.1,705.3 1200.8,706.5 1201.5,707.7 1200.8,715.8 1202.5,720.4 1203.4,721.6 1204.2,722.9 1205.1,724.1 1206.3,721.3 1207.3,720.1 1208.4,719.0 1210.1,715.2 1211.0,714.9 1211.8,714.9 1212.7,714.7 1213.5,713.8 1214.3,713.0 1215.1,712.3 1216.2,710.5 1216.9,710.6 1217.6,710.8 1218.8,711.9 1219.6,713.8 1220.2,711.3 1221.3,707.3 1222.3,707.7 1223.4,708.3 1224.3,709.0 1225.2,709.5 1226.1,710.1 1226.8,710.9 1227.6,711.4 1227.8,714.4 1229.1,717.0 1229.9,717.7 1230.8,718.8 1231.6,719.5 1232.9,722.4 1233.7,725.6 1234.2,727.9 1234.9,730.2 1235.7,731.9 1236.7,735.6 1238.0,739.3 1239.2,741.6 1240.0,743.9 1240.5,745.9"/>
<rect x="146.5" y="699.5" width="5" height="49" rx="1" fill="#fff" stroke="#3a3a3a" stroke-width="1.1"/>
<rect x="1300.5" y="699.5" width="5" height="49" rx="1" fill="#fff" stroke="#3a3a3a" stroke-width="1.1"/>
<line x1="41" y1="102.3" x2="78.7" y2="102.3" stroke="#3876b6" stroke-width="2.4"/><circle cx="59.7" cy="102.3" r="2.8" fill="#3876b6"/>
<line x1="41" y1="126" x2="78.7" y2="126" stroke="#f27e04" stroke-width="2.4"/><circle cx="59.7" cy="126" r="2.8" fill="#f27e04"/>
<text x="84.9" y="108" font-size="15.6" fill="#474747" textLength="84.6" lengthAdjust="spacingAndGlyphs">Sent words</text>
<text x="84.9" y="131.8" font-size="15.6" fill="#474747" textLength="116.6" lengthAdjust="spacingAndGlyphs">Received words</text>
<rect x="36.5" y="25.5" width="173" height="44" rx="3" fill="#fff" stroke="#b7c0dc" stroke-width="1"/>
<line x1="210.5" y1="28" x2="210.5" y2="67" stroke="#b9c2dd" stroke-width="1"/>
<text x="51.4" y="51.4" font-size="15.4" fill="#474747" textLength="63.4" lengthAdjust="spacingAndGlyphs">All chats</text>
<polygon points="190.8,40.2 201.5,40.2 196.15,49.8" fill="#444"/>
<rect x="1179.5" y="64.5" width="111" height="41" rx="3" fill="#fff" stroke="#b7c0dc" stroke-width="1"/>
<text x="1195.3" y="89.2" font-size="15.4" fill="#474747" textLength="79.6" lengthAdjust="spacingAndGlyphs">Reset view</text>
</svg>
</body></html>
